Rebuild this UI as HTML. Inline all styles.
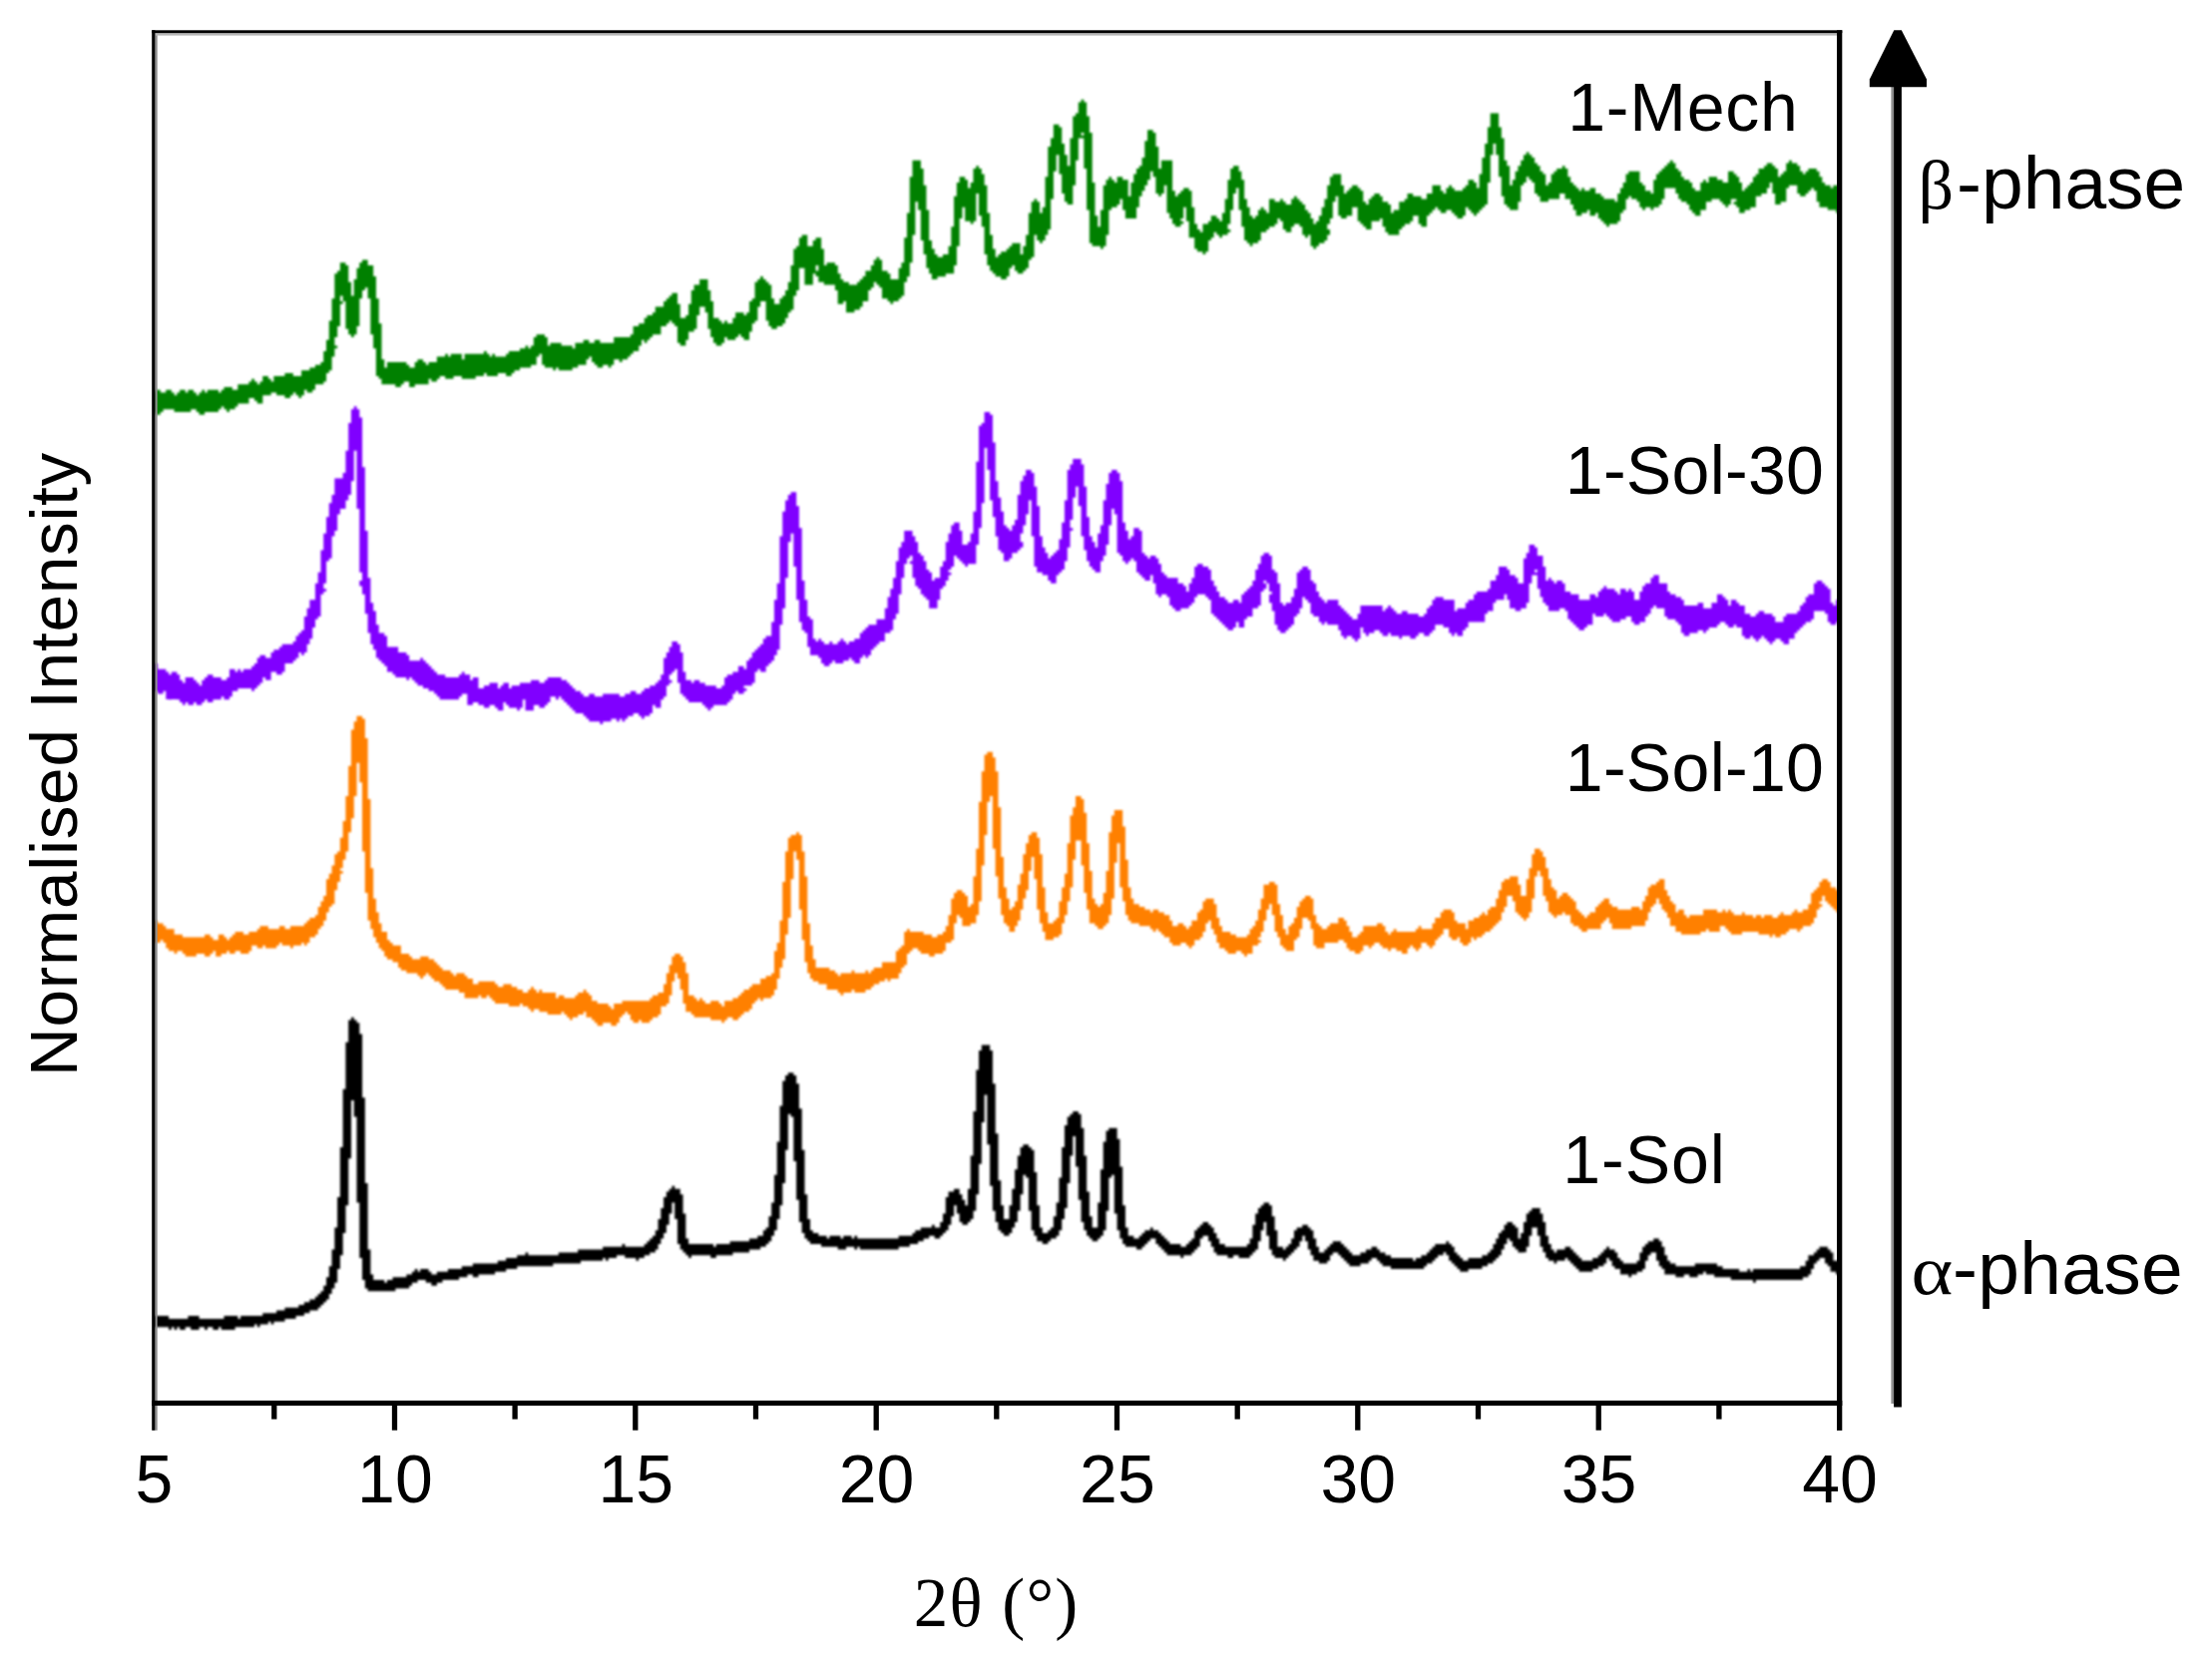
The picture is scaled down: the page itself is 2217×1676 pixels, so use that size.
<!DOCTYPE html>
<html lang="en">
<head>
<meta charset="utf-8">
<title>PXRD patterns</title>
<style>
html,body{margin:0;padding:0;background:#fff;}
body{width:2217px;height:1676px;overflow:hidden;}
svg{display:block;}
.sans{font-family:"Liberation Sans", sans-serif;fill:#000;}
.serif{font-family:"Liberation Serif", serif;fill:#000;}
</style>
</head>
<body>
<svg width="2217" height="1676" viewBox="0 0 2217 1676">
<rect x="0" y="0" width="2217" height="1676" fill="#fff"/>
<defs><filter id="soft" x="0" y="0" width="2217" height="1676" filterUnits="userSpaceOnUse"><feGaussianBlur stdDeviation="0.8"/></filter><clipPath id="plot"><rect x="154.5" y="32.3" width="1689.2" height="1373.7"/></clipPath></defs>
<g clip-path="url(#plot)"><g filter="url(#soft)">
<path d="M146.88,404.60h2.83v2.77h-2.83zM149.65,399.06h2.83v13.86h-2.83zM152.42,393.52h2.83v19.40h-2.83zM155.19,390.75h2.83v24.94h-2.83zM157.96,390.75h2.83v24.94h-2.83zM160.73,393.52h2.83v19.40h-2.83zM163.50,393.52h2.83v16.63h-2.83zM166.28,390.75h2.83v19.40h-2.83zM169.05,390.75h2.83v19.40h-2.83zM171.82,393.52h2.83v16.63h-2.83zM174.59,396.29h2.83v16.63h-2.83zM177.36,393.52h2.83v19.40h-2.83zM180.13,390.75h2.83v22.17h-2.83zM182.90,390.75h2.83v22.17h-2.83zM185.67,393.52h2.83v19.40h-2.83zM188.45,390.75h2.83v22.17h-2.83zM191.22,390.75h2.83v19.40h-2.83zM193.99,393.52h2.83v16.63h-2.83zM196.76,396.29h2.83v16.63h-2.83zM199.53,393.52h2.83v22.17h-2.83zM202.30,390.75h2.83v24.94h-2.83zM205.07,393.52h2.83v19.40h-2.83zM207.84,390.75h2.83v22.17h-2.83zM210.62,390.75h2.83v22.17h-2.83zM213.39,390.75h2.83v22.17h-2.83zM216.16,390.75h2.83v22.17h-2.83zM218.93,393.52h2.83v16.63h-2.83zM221.70,390.75h2.83v16.63h-2.83zM224.47,387.98h2.83v22.17h-2.83zM227.24,387.98h2.83v24.94h-2.83zM230.01,387.98h2.83v22.17h-2.83zM232.79,390.75h2.83v19.40h-2.83zM235.56,390.75h2.83v16.63h-2.83zM238.33,385.20h2.83v19.40h-2.83zM241.10,385.20h2.83v19.40h-2.83zM243.87,385.20h2.83v19.40h-2.83zM246.64,385.20h2.83v19.40h-2.83zM249.41,382.43h2.83v16.63h-2.83zM252.18,379.66h2.83v19.40h-2.83zM254.96,382.43h2.83v19.40h-2.83zM257.73,385.20h2.83v19.40h-2.83zM260.50,382.43h2.83v22.17h-2.83zM263.27,376.89h2.83v19.40h-2.83zM266.04,376.89h2.83v19.40h-2.83zM268.81,379.66h2.83v16.63h-2.83zM271.58,382.43h2.83v11.09h-2.83zM274.35,376.89h2.83v16.63h-2.83zM277.12,376.89h2.83v19.40h-2.83zM279.90,376.89h2.83v19.40h-2.83zM282.67,376.89h2.83v19.40h-2.83zM285.44,374.12h2.83v24.94h-2.83zM288.21,374.12h2.83v24.94h-2.83zM290.98,374.12h2.83v22.17h-2.83zM293.75,376.89h2.83v16.63h-2.83zM296.52,376.89h2.83v19.40h-2.83zM299.30,376.89h2.83v22.17h-2.83zM302.07,371.35h2.83v24.94h-2.83zM304.84,371.35h2.83v19.40h-2.83zM307.61,371.35h2.83v22.17h-2.83zM310.38,368.58h2.83v24.94h-2.83zM313.15,368.58h2.83v22.17h-2.83zM315.92,365.81h2.83v19.40h-2.83zM318.69,365.81h2.83v19.40h-2.83zM321.47,363.03h2.83v22.17h-2.83zM324.24,351.95h2.83v30.48h-2.83zM327.01,340.86h2.83v33.26h-2.83zM329.78,321.47h2.83v49.88h-2.83zM332.55,299.30h2.83v58.20h-2.83zM335.32,274.35h2.83v63.74h-2.83zM335.32,346.41h2.83v2.77h-2.83zM338.09,271.58h2.83v55.43h-2.83zM340.86,263.27h2.83v33.26h-2.83zM340.86,302.07h2.83v2.77h-2.83zM343.64,263.27h2.83v38.80h-2.83zM346.41,266.04h2.83v63.74h-2.83zM349.18,282.67h2.83v52.65h-2.83zM351.95,296.52h2.83v41.57h-2.83zM354.72,279.90h2.83v55.43h-2.83zM357.49,268.81h2.83v58.20h-2.83zM360.26,263.27h2.83v36.03h-2.83zM363.03,260.50h2.83v30.48h-2.83zM365.81,260.50h2.83v27.71h-2.83zM368.58,266.04h2.83v33.26h-2.83zM371.35,266.04h2.83v69.28h-2.83zM374.12,277.12h2.83v72.05h-2.83zM376.89,299.30h2.83v77.59h-2.83zM379.66,324.24h2.83v55.43h-2.83zM382.43,360.26h2.83v24.94h-2.83zM385.20,368.58h2.83v16.63h-2.83zM387.98,363.03h2.83v22.17h-2.83zM390.75,363.03h2.83v22.17h-2.83zM393.52,363.03h2.83v22.17h-2.83zM396.29,363.03h2.83v24.94h-2.83zM399.06,363.03h2.83v24.94h-2.83zM401.83,363.03h2.83v22.17h-2.83zM404.60,363.03h2.83v19.40h-2.83zM407.37,365.81h2.83v16.63h-2.83zM410.15,368.58h2.83v19.40h-2.83zM412.92,368.58h2.83v19.40h-2.83zM415.69,363.03h2.83v22.17h-2.83zM418.46,360.26h2.83v24.94h-2.83zM421.23,360.26h2.83v24.94h-2.83zM424.00,363.03h2.83v22.17h-2.83zM426.77,365.81h2.83v19.40h-2.83zM429.54,363.03h2.83v16.63h-2.83zM432.32,363.03h2.83v19.40h-2.83zM435.09,363.03h2.83v19.40h-2.83zM437.86,357.49h2.83v22.17h-2.83zM440.63,357.49h2.83v19.40h-2.83zM443.40,357.49h2.83v19.40h-2.83zM446.17,354.72h2.83v24.94h-2.83zM448.94,357.49h2.83v22.17h-2.83zM451.71,354.72h2.83v24.94h-2.83zM454.49,354.72h2.83v22.17h-2.83zM457.26,354.72h2.83v22.17h-2.83zM460.03,354.72h2.83v22.17h-2.83zM462.80,360.26h2.83v19.40h-2.83zM465.57,354.72h2.83v24.94h-2.83zM468.34,354.72h2.83v24.94h-2.83zM471.11,354.72h2.83v24.94h-2.83zM473.88,354.72h2.83v24.94h-2.83zM476.66,354.72h2.83v22.17h-2.83zM479.43,354.72h2.83v22.17h-2.83zM482.20,354.72h2.83v22.17h-2.83zM484.97,351.95h2.83v22.17h-2.83zM487.74,354.72h2.83v22.17h-2.83zM490.51,357.49h2.83v19.40h-2.83zM493.28,354.72h2.83v22.17h-2.83zM496.05,357.49h2.83v19.40h-2.83zM498.83,357.49h2.83v16.63h-2.83zM501.60,357.49h2.83v16.63h-2.83zM504.37,357.49h2.83v16.63h-2.83zM507.14,354.72h2.83v22.17h-2.83zM509.91,351.95h2.83v24.94h-2.83zM512.68,351.95h2.83v22.17h-2.83zM515.45,351.95h2.83v19.40h-2.83zM518.22,351.95h2.83v19.40h-2.83zM521.00,349.18h2.83v19.40h-2.83zM523.77,349.18h2.83v19.40h-2.83zM526.54,346.41h2.83v22.17h-2.83zM529.31,349.18h2.83v19.40h-2.83zM532.08,346.41h2.83v19.40h-2.83zM534.85,338.09h2.83v27.71h-2.83zM537.62,335.32h2.83v22.17h-2.83zM540.39,335.32h2.83v19.40h-2.83zM543.17,335.32h2.83v30.48h-2.83zM545.94,338.09h2.83v30.48h-2.83zM548.71,346.41h2.83v22.17h-2.83zM551.48,343.64h2.83v24.94h-2.83zM554.25,343.64h2.83v27.71h-2.83zM557.02,343.64h2.83v24.94h-2.83zM559.79,343.64h2.83v27.71h-2.83zM562.56,346.41h2.83v24.94h-2.83zM565.34,346.41h2.83v24.94h-2.83zM568.11,346.41h2.83v24.94h-2.83zM570.88,346.41h2.83v24.94h-2.83zM573.65,349.18h2.83v19.40h-2.83zM576.42,343.64h2.83v24.94h-2.83zM579.19,343.64h2.83v22.17h-2.83zM581.96,343.64h2.83v22.17h-2.83zM584.73,340.86h2.83v24.94h-2.83zM587.50,340.86h2.83v19.40h-2.83zM590.28,343.64h2.83v13.86h-2.83zM593.05,343.64h2.83v19.40h-2.83zM595.82,340.86h2.83v24.94h-2.83zM598.59,340.86h2.83v27.71h-2.83zM601.36,343.64h2.83v24.94h-2.83zM604.13,343.64h2.83v22.17h-2.83zM606.90,343.64h2.83v22.17h-2.83zM609.68,343.64h2.83v24.94h-2.83zM612.45,343.64h2.83v22.17h-2.83zM615.22,338.09h2.83v22.17h-2.83zM617.99,338.09h2.83v22.17h-2.83zM620.76,338.09h2.83v24.94h-2.83zM623.53,338.09h2.83v22.17h-2.83zM626.30,338.09h2.83v22.17h-2.83zM629.07,338.09h2.83v19.40h-2.83zM631.85,335.32h2.83v19.40h-2.83zM634.62,327.01h2.83v24.94h-2.83zM637.39,327.01h2.83v24.94h-2.83zM640.16,324.24h2.83v22.17h-2.83zM642.93,324.24h2.83v16.63h-2.83zM645.70,318.69h2.83v24.94h-2.83zM648.47,315.92h2.83v24.94h-2.83zM651.24,315.92h2.83v22.17h-2.83zM654.02,313.15h2.83v22.17h-2.83zM656.79,307.61h2.83v27.71h-2.83zM659.56,307.61h2.83v27.71h-2.83zM662.33,307.61h2.83v19.40h-2.83zM665.10,302.07h2.83v24.94h-2.83zM667.87,299.30h2.83v24.94h-2.83zM670.64,296.52h2.83v24.94h-2.83zM673.41,293.75h2.83v30.48h-2.83zM676.19,293.75h2.83v33.26h-2.83zM678.96,304.84h2.83v38.80h-2.83zM681.73,318.69h2.83v27.71h-2.83zM684.50,318.69h2.83v27.71h-2.83zM687.27,315.92h2.83v24.94h-2.83zM690.04,304.84h2.83v27.71h-2.83zM692.81,290.98h2.83v41.57h-2.83zM695.58,285.44h2.83v44.34h-2.83zM698.36,285.44h2.83v30.48h-2.83zM701.13,279.90h2.83v27.71h-2.83zM703.90,279.90h2.83v27.71h-2.83zM706.67,279.90h2.83v33.26h-2.83zM709.44,290.98h2.83v38.80h-2.83zM712.21,302.07h2.83v36.03h-2.83zM714.98,318.69h2.83v24.94h-2.83zM717.75,318.69h2.83v27.71h-2.83zM720.53,321.47h2.83v24.94h-2.83zM723.30,324.24h2.83v19.40h-2.83zM726.07,321.47h2.83v16.63h-2.83zM728.84,324.24h2.83v16.63h-2.83zM731.61,324.24h2.83v16.63h-2.83zM734.38,318.69h2.83v22.17h-2.83zM737.15,313.15h2.83v24.94h-2.83zM739.92,313.15h2.83v22.17h-2.83zM742.70,313.15h2.83v24.94h-2.83zM745.47,315.92h2.83v24.94h-2.83zM748.24,313.15h2.83v27.71h-2.83zM751.01,302.07h2.83v30.48h-2.83zM753.78,299.30h2.83v24.94h-2.83zM756.55,282.67h2.83v38.80h-2.83zM759.32,279.90h2.83v27.71h-2.83zM762.09,277.12h2.83v24.94h-2.83zM764.87,279.90h2.83v22.17h-2.83zM767.64,282.67h2.83v38.80h-2.83zM770.41,285.44h2.83v41.57h-2.83zM773.18,299.30h2.83v30.48h-2.83zM775.95,304.84h2.83v24.94h-2.83zM778.72,304.84h2.83v22.17h-2.83zM781.49,299.30h2.83v27.71h-2.83zM784.26,296.52h2.83v27.71h-2.83zM787.04,290.98h2.83v27.71h-2.83zM789.81,282.67h2.83v30.48h-2.83zM792.58,266.04h2.83v44.34h-2.83zM795.35,249.41h2.83v47.11h-2.83zM798.12,246.64h2.83v44.34h-2.83zM800.89,238.33h2.83v30.48h-2.83zM803.66,235.56h2.83v33.26h-2.83zM806.43,235.56h2.83v49.88h-2.83zM809.21,246.64h2.83v38.80h-2.83zM811.98,246.64h2.83v38.80h-2.83zM814.75,241.10h2.83v33.26h-2.83zM817.52,238.33h2.83v27.71h-2.83zM817.52,271.58h2.83v5.54h-2.83zM820.29,238.33h2.83v44.34h-2.83zM823.06,249.41h2.83v33.26h-2.83zM825.83,266.04h2.83v19.40h-2.83zM828.60,263.27h2.83v22.17h-2.83zM831.38,263.27h2.83v22.17h-2.83zM834.15,263.27h2.83v22.17h-2.83zM836.92,266.04h2.83v24.94h-2.83zM839.69,274.35h2.83v30.48h-2.83zM842.46,279.90h2.83v24.94h-2.83zM845.23,282.67h2.83v19.40h-2.83zM848.00,282.67h2.83v30.48h-2.83zM850.77,285.44h2.83v27.71h-2.83zM853.55,285.44h2.83v27.71h-2.83zM856.32,285.44h2.83v24.94h-2.83zM859.09,282.67h2.83v27.71h-2.83zM861.86,279.90h2.83v27.71h-2.83zM864.63,277.12h2.83v24.94h-2.83zM867.40,271.58h2.83v30.48h-2.83zM870.17,271.58h2.83v19.40h-2.83zM872.94,266.04h2.83v22.17h-2.83zM875.72,260.50h2.83v22.17h-2.83zM878.49,257.73h2.83v27.71h-2.83zM881.26,260.50h2.83v27.71h-2.83zM884.03,271.58h2.83v27.71h-2.83zM886.80,271.58h2.83v27.71h-2.83zM889.57,274.35h2.83v27.71h-2.83zM892.34,279.90h2.83v24.94h-2.83zM895.11,279.90h2.83v22.17h-2.83zM897.89,279.90h2.83v22.17h-2.83zM900.66,268.81h2.83v30.48h-2.83zM903.43,263.27h2.83v33.26h-2.83zM906.20,238.33h2.83v44.34h-2.83zM908.97,213.39h2.83v63.74h-2.83zM911.74,177.36h2.83v85.91h-2.83zM914.51,160.73h2.83v74.82h-2.83zM917.28,160.73h2.83v41.57h-2.83zM920.06,160.73h2.83v49.88h-2.83zM922.83,169.05h2.83v72.05h-2.83zM925.60,185.67h2.83v69.28h-2.83zM928.37,210.62h2.83v58.20h-2.83zM931.14,241.10h2.83v33.26h-2.83zM933.91,249.41h2.83v30.48h-2.83zM936.68,254.96h2.83v24.94h-2.83zM939.45,257.73h2.83v19.40h-2.83zM942.23,257.73h2.83v19.40h-2.83zM945.00,254.96h2.83v22.17h-2.83zM947.77,254.96h2.83v19.40h-2.83zM950.54,246.64h2.83v27.71h-2.83zM953.31,227.24h2.83v47.11h-2.83zM956.08,196.76h2.83v69.28h-2.83zM958.85,182.90h2.83v63.74h-2.83zM961.62,177.36h2.83v41.57h-2.83zM964.40,177.36h2.83v30.48h-2.83zM967.17,180.13h2.83v41.57h-2.83zM969.94,188.45h2.83v33.26h-2.83zM972.71,182.90h2.83v41.57h-2.83zM975.48,169.05h2.83v52.65h-2.83zM978.25,166.28h2.83v27.71h-2.83zM981.02,169.05h2.83v47.11h-2.83zM983.79,174.59h2.83v52.65h-2.83zM986.57,185.67h2.83v69.28h-2.83zM989.34,213.39h2.83v52.65h-2.83zM992.11,235.56h2.83v36.03h-2.83zM994.88,249.41h2.83v24.94h-2.83zM997.65,257.73h2.83v19.40h-2.83zM1000.42,254.96h2.83v22.17h-2.83zM1003.19,252.18h2.83v27.71h-2.83zM1005.96,252.18h2.83v27.71h-2.83zM1008.74,249.41h2.83v27.71h-2.83zM1011.51,246.64h2.83v22.17h-2.83zM1014.28,243.87h2.83v22.17h-2.83zM1017.05,243.87h2.83v27.71h-2.83zM1019.82,243.87h2.83v30.48h-2.83zM1022.59,254.96h2.83v19.40h-2.83zM1025.36,246.64h2.83v24.94h-2.83zM1028.13,235.56h2.83v33.26h-2.83zM1030.90,213.39h2.83v47.11h-2.83zM1033.68,202.30h2.83v55.43h-2.83zM1036.45,199.53h2.83v36.03h-2.83zM1039.22,202.30h2.83v38.80h-2.83zM1041.99,213.39h2.83v30.48h-2.83zM1044.76,207.84h2.83v33.26h-2.83zM1047.53,177.36h2.83v58.20h-2.83zM1050.30,146.88h2.83v83.14h-2.83zM1053.08,138.56h2.83v60.97h-2.83zM1055.85,124.71h2.83v47.11h-2.83zM1058.62,124.71h2.83v30.48h-2.83zM1061.39,127.48h2.83v47.11h-2.83zM1064.16,144.11h2.83v49.88h-2.83zM1066.93,155.19h2.83v47.11h-2.83zM1069.70,166.28h2.83v38.80h-2.83zM1072.47,138.56h2.83v66.51h-2.83zM1075.25,116.39h2.83v69.28h-2.83zM1078.02,113.62h2.83v47.11h-2.83zM1080.79,102.54h2.83v36.03h-2.83zM1083.56,99.77h2.83v33.26h-2.83zM1083.56,135.79h2.83v2.77h-2.83zM1086.33,102.54h2.83v66.51h-2.83zM1089.10,116.39h2.83v94.22h-2.83zM1091.87,133.02h2.83v110.85h-2.83zM1094.64,182.90h2.83v63.74h-2.83zM1097.42,216.16h2.83v30.48h-2.83zM1100.19,227.24h2.83v19.40h-2.83zM1102.96,210.62h2.83v38.80h-2.83zM1105.73,185.67h2.83v60.97h-2.83zM1108.50,180.13h2.83v55.43h-2.83zM1111.27,177.36h2.83v33.26h-2.83zM1114.04,180.13h2.83v27.71h-2.83zM1116.81,182.90h2.83v24.94h-2.83zM1119.59,177.36h2.83v27.71h-2.83zM1122.36,177.36h2.83v22.17h-2.83zM1125.13,180.13h2.83v30.48h-2.83zM1127.90,180.13h2.83v38.80h-2.83zM1130.67,196.76h2.83v22.17h-2.83zM1133.44,182.90h2.83v36.03h-2.83zM1136.21,174.59h2.83v44.34h-2.83zM1138.98,169.05h2.83v38.80h-2.83zM1141.76,166.28h2.83v30.48h-2.83zM1144.53,157.96h2.83v33.26h-2.83zM1147.30,141.33h2.83v44.34h-2.83zM1150.07,130.25h2.83v49.88h-2.83zM1152.84,130.25h2.83v41.57h-2.83zM1155.61,133.02h2.83v44.34h-2.83zM1158.38,146.88h2.83v47.11h-2.83zM1161.15,169.05h2.83v27.71h-2.83zM1163.93,160.73h2.83v33.26h-2.83zM1166.70,160.73h2.83v24.94h-2.83zM1169.47,160.73h2.83v52.65h-2.83zM1172.24,160.73h2.83v58.20h-2.83zM1175.01,191.22h2.83v33.26h-2.83zM1177.78,196.76h2.83v30.48h-2.83zM1180.55,193.99h2.83v33.26h-2.83zM1183.32,191.22h2.83v27.71h-2.83zM1183.32,221.70h2.83v2.77h-2.83zM1186.10,188.45h2.83v19.40h-2.83zM1188.87,188.45h2.83v33.26h-2.83zM1191.64,191.22h2.83v47.11h-2.83zM1194.41,207.84h2.83v30.48h-2.83zM1197.18,224.47h2.83v24.94h-2.83zM1199.95,230.01h2.83v22.17h-2.83zM1202.72,232.79h2.83v19.40h-2.83zM1205.49,224.47h2.83v30.48h-2.83zM1208.27,224.47h2.83v27.71h-2.83zM1211.04,221.70h2.83v19.40h-2.83zM1213.81,216.16h2.83v22.17h-2.83zM1216.58,216.16h2.83v16.63h-2.83zM1219.35,218.93h2.83v16.63h-2.83zM1222.12,221.70h2.83v16.63h-2.83zM1224.89,213.39h2.83v22.17h-2.83zM1227.66,199.53h2.83v36.03h-2.83zM1230.44,180.13h2.83v44.34h-2.83zM1230.44,230.01h2.83v2.77h-2.83zM1233.21,169.05h2.83v41.57h-2.83zM1235.98,166.28h2.83v27.71h-2.83zM1238.75,166.28h2.83v22.17h-2.83zM1241.52,171.82h2.83v38.80h-2.83zM1244.29,180.13h2.83v47.11h-2.83zM1247.06,199.53h2.83v41.57h-2.83zM1249.83,207.84h2.83v36.03h-2.83zM1252.61,216.16h2.83v30.48h-2.83zM1255.38,218.93h2.83v24.94h-2.83zM1258.15,216.16h2.83v27.71h-2.83zM1260.92,210.62h2.83v30.48h-2.83zM1263.69,207.84h2.83v24.94h-2.83zM1266.46,210.62h2.83v22.17h-2.83zM1269.23,213.39h2.83v16.63h-2.83zM1272.00,199.53h2.83v27.71h-2.83zM1274.78,199.53h2.83v27.71h-2.83zM1277.55,202.30h2.83v22.17h-2.83zM1280.32,202.30h2.83v16.63h-2.83zM1283.09,199.53h2.83v22.17h-2.83zM1285.86,202.30h2.83v27.71h-2.83zM1288.63,205.07h2.83v27.71h-2.83zM1291.40,205.07h2.83v27.71h-2.83zM1294.17,199.53h2.83v27.71h-2.83zM1296.95,196.76h2.83v27.71h-2.83zM1299.72,199.53h2.83v24.94h-2.83zM1302.49,202.30h2.83v24.94h-2.83zM1305.26,205.07h2.83v30.48h-2.83zM1308.03,210.62h2.83v27.71h-2.83zM1310.80,213.39h2.83v22.17h-2.83zM1313.57,218.93h2.83v27.71h-2.83zM1316.34,224.47h2.83v24.94h-2.83zM1319.12,221.70h2.83v24.94h-2.83zM1321.89,216.16h2.83v27.71h-2.83zM1324.66,207.84h2.83v36.03h-2.83zM1327.43,199.53h2.83v41.57h-2.83zM1330.20,185.67h2.83v38.80h-2.83zM1330.20,230.01h2.83v5.54h-2.83zM1332.97,177.36h2.83v41.57h-2.83zM1335.74,174.59h2.83v27.71h-2.83zM1338.51,174.59h2.83v22.17h-2.83zM1341.29,174.59h2.83v41.57h-2.83zM1344.06,185.67h2.83v33.26h-2.83zM1346.83,193.99h2.83v24.94h-2.83zM1349.60,191.22h2.83v24.94h-2.83zM1352.37,188.45h2.83v27.71h-2.83zM1355.14,185.67h2.83v22.17h-2.83zM1357.91,185.67h2.83v22.17h-2.83zM1360.68,188.45h2.83v33.26h-2.83zM1363.46,191.22h2.83v33.26h-2.83zM1366.23,202.30h2.83v24.94h-2.83zM1369.00,205.07h2.83v24.94h-2.83zM1371.77,199.53h2.83v30.48h-2.83zM1374.54,196.76h2.83v24.94h-2.83zM1377.31,193.99h2.83v27.71h-2.83zM1380.08,193.99h2.83v27.71h-2.83zM1382.85,196.76h2.83v22.17h-2.83zM1385.62,202.30h2.83v24.94h-2.83zM1388.40,202.30h2.83v30.48h-2.83zM1391.17,205.07h2.83v30.48h-2.83zM1393.94,213.39h2.83v22.17h-2.83zM1396.71,210.62h2.83v24.94h-2.83zM1399.48,210.62h2.83v24.94h-2.83zM1402.25,202.30h2.83v27.71h-2.83zM1405.02,202.30h2.83v24.94h-2.83zM1407.80,199.53h2.83v24.94h-2.83zM1410.57,193.99h2.83v30.48h-2.83zM1413.34,193.99h2.83v27.71h-2.83zM1416.11,196.76h2.83v19.40h-2.83zM1418.88,196.76h2.83v19.40h-2.83zM1421.65,196.76h2.83v27.71h-2.83zM1424.42,199.53h2.83v27.71h-2.83zM1427.19,199.53h2.83v27.71h-2.83zM1429.97,193.99h2.83v22.17h-2.83zM1432.74,193.99h2.83v19.40h-2.83zM1435.51,185.67h2.83v24.94h-2.83zM1438.28,185.67h2.83v22.17h-2.83zM1441.05,185.67h2.83v24.94h-2.83zM1443.82,191.22h2.83v22.17h-2.83zM1446.59,193.99h2.83v19.40h-2.83zM1449.36,188.45h2.83v22.17h-2.83zM1452.14,185.67h2.83v24.94h-2.83zM1454.91,188.45h2.83v24.94h-2.83zM1457.68,191.22h2.83v24.94h-2.83zM1460.45,191.22h2.83v27.71h-2.83zM1463.22,191.22h2.83v27.71h-2.83zM1465.99,188.45h2.83v27.71h-2.83zM1468.76,185.67h2.83v22.17h-2.83zM1471.53,180.13h2.83v30.48h-2.83zM1474.31,180.13h2.83v33.26h-2.83zM1477.08,182.90h2.83v33.26h-2.83zM1479.85,188.45h2.83v24.94h-2.83zM1482.62,174.59h2.83v36.03h-2.83zM1485.39,157.96h2.83v49.88h-2.83zM1488.16,144.11h2.83v60.97h-2.83zM1490.93,127.48h2.83v55.43h-2.83zM1493.70,113.62h2.83v41.57h-2.83zM1496.48,113.62h2.83v30.48h-2.83zM1499.25,113.62h2.83v41.57h-2.83zM1502.02,127.48h2.83v49.88h-2.83zM1504.79,138.56h2.83v58.20h-2.83zM1507.56,160.73h2.83v44.34h-2.83zM1510.33,166.28h2.83v41.57h-2.83zM1513.10,185.67h2.83v24.94h-2.83zM1515.87,180.13h2.83v30.48h-2.83zM1518.65,171.82h2.83v38.80h-2.83zM1521.42,166.28h2.83v36.03h-2.83zM1524.19,160.73h2.83v24.94h-2.83zM1526.96,155.19h2.83v27.71h-2.83zM1529.73,152.42h2.83v24.94h-2.83zM1532.50,155.19h2.83v24.94h-2.83zM1535.27,157.96h2.83v24.94h-2.83zM1538.04,163.50h2.83v30.48h-2.83zM1540.82,166.28h2.83v30.48h-2.83zM1543.59,171.82h2.83v30.48h-2.83zM1546.36,174.59h2.83v27.71h-2.83zM1549.13,185.67h2.83v16.63h-2.83zM1551.90,182.90h2.83v16.63h-2.83zM1554.67,174.59h2.83v24.94h-2.83zM1557.44,171.82h2.83v27.71h-2.83zM1560.21,169.05h2.83v30.48h-2.83zM1562.99,169.05h2.83v24.94h-2.83zM1565.76,166.28h2.83v27.71h-2.83zM1568.53,169.05h2.83v30.48h-2.83zM1571.30,177.36h2.83v22.17h-2.83zM1574.07,182.90h2.83v22.17h-2.83zM1576.84,185.67h2.83v24.94h-2.83zM1579.61,188.45h2.83v27.71h-2.83zM1582.38,191.22h2.83v24.94h-2.83zM1585.16,188.45h2.83v24.94h-2.83zM1587.93,191.22h2.83v22.17h-2.83zM1590.70,191.22h2.83v19.40h-2.83zM1593.47,188.45h2.83v27.71h-2.83zM1596.24,188.45h2.83v27.71h-2.83zM1599.01,193.99h2.83v19.40h-2.83zM1601.78,193.99h2.83v24.94h-2.83zM1604.55,196.76h2.83v24.94h-2.83zM1607.33,199.53h2.83v24.94h-2.83zM1610.10,199.53h2.83v27.71h-2.83zM1612.87,199.53h2.83v24.94h-2.83zM1615.64,199.53h2.83v24.94h-2.83zM1618.41,202.30h2.83v22.17h-2.83zM1621.18,193.99h2.83v27.71h-2.83zM1623.95,188.45h2.83v24.94h-2.83zM1626.72,182.90h2.83v27.71h-2.83zM1629.50,174.59h2.83v24.94h-2.83zM1632.27,171.82h2.83v24.94h-2.83zM1635.04,171.82h2.83v27.71h-2.83zM1637.81,171.82h2.83v27.71h-2.83zM1640.58,171.82h2.83v30.48h-2.83zM1643.35,182.90h2.83v24.94h-2.83zM1646.12,185.67h2.83v24.94h-2.83zM1648.89,191.22h2.83v16.63h-2.83zM1651.67,191.22h2.83v16.63h-2.83zM1654.44,193.99h2.83v16.63h-2.83zM1657.21,180.13h2.83v27.71h-2.83zM1659.98,174.59h2.83v33.26h-2.83zM1662.75,171.82h2.83v33.26h-2.83zM1665.52,169.05h2.83v30.48h-2.83zM1668.29,166.28h2.83v22.17h-2.83zM1671.06,163.50h2.83v24.94h-2.83zM1673.84,160.73h2.83v27.71h-2.83zM1676.61,163.50h2.83v24.94h-2.83zM1679.38,169.05h2.83v24.94h-2.83zM1682.15,171.82h2.83v27.71h-2.83zM1684.92,177.36h2.83v24.94h-2.83zM1687.69,180.13h2.83v22.17h-2.83zM1690.46,180.13h2.83v24.94h-2.83zM1693.23,182.90h2.83v27.71h-2.83zM1696.01,188.45h2.83v24.94h-2.83zM1698.78,191.22h2.83v24.94h-2.83zM1701.55,191.22h2.83v24.94h-2.83zM1704.32,182.90h2.83v27.71h-2.83zM1707.09,180.13h2.83v30.48h-2.83zM1709.86,182.90h2.83v19.40h-2.83zM1712.63,177.36h2.83v24.94h-2.83zM1715.40,177.36h2.83v22.17h-2.83zM1718.18,177.36h2.83v22.17h-2.83zM1720.95,180.13h2.83v19.40h-2.83zM1723.72,180.13h2.83v22.17h-2.83zM1726.49,182.90h2.83v22.17h-2.83zM1729.26,182.90h2.83v24.94h-2.83zM1732.03,171.82h2.83v33.26h-2.83zM1734.80,171.82h2.83v27.71h-2.83zM1737.57,174.59h2.83v24.94h-2.83zM1737.57,202.30h2.83v2.77h-2.83zM1740.35,177.36h2.83v30.48h-2.83zM1743.12,182.90h2.83v30.48h-2.83zM1745.89,191.22h2.83v22.17h-2.83zM1748.66,188.45h2.83v22.17h-2.83zM1751.43,185.67h2.83v24.94h-2.83zM1754.20,182.90h2.83v24.94h-2.83zM1756.97,177.36h2.83v30.48h-2.83zM1759.74,174.59h2.83v22.17h-2.83zM1762.52,169.05h2.83v27.71h-2.83zM1765.29,169.05h2.83v24.94h-2.83zM1768.06,166.28h2.83v27.71h-2.83zM1770.83,163.50h2.83v24.94h-2.83zM1773.60,163.50h2.83v19.40h-2.83zM1776.37,166.28h2.83v27.71h-2.83zM1779.14,169.05h2.83v36.03h-2.83zM1781.91,177.36h2.83v27.71h-2.83zM1784.69,174.59h2.83v27.71h-2.83zM1787.46,171.82h2.83v30.48h-2.83zM1790.23,163.50h2.83v24.94h-2.83zM1793.00,160.73h2.83v24.94h-2.83zM1795.77,163.50h2.83v22.17h-2.83zM1798.54,163.50h2.83v22.17h-2.83zM1801.31,166.28h2.83v27.71h-2.83zM1804.08,171.82h2.83v24.94h-2.83zM1806.86,174.59h2.83v22.17h-2.83zM1809.63,171.82h2.83v22.17h-2.83zM1812.40,169.05h2.83v22.17h-2.83zM1815.17,169.05h2.83v19.40h-2.83zM1817.94,169.05h2.83v22.17h-2.83zM1820.71,171.82h2.83v30.48h-2.83zM1823.48,177.36h2.83v30.48h-2.83zM1826.25,182.90h2.83v24.94h-2.83zM1829.03,185.67h2.83v22.17h-2.83zM1831.80,185.67h2.83v24.94h-2.83zM1834.57,188.45h2.83v22.17h-2.83zM1837.34,185.67h2.83v24.94h-2.83zM1840.11,185.67h2.83v27.71h-2.83zM1842.88,191.22h2.83v22.17h-2.83zM1845.65,191.22h2.83v13.86h-2.83z" fill="#008000" stroke="none"/>
<path d="M149.65,667.87h2.83v22.17h-2.83zM152.42,665.10h2.83v27.71h-2.83zM155.19,665.10h2.83v27.71h-2.83zM157.96,670.64h2.83v24.94h-2.83zM160.73,670.64h2.83v24.94h-2.83zM163.50,670.64h2.83v22.17h-2.83zM166.28,673.41h2.83v27.71h-2.83zM169.05,676.19h2.83v24.94h-2.83zM171.82,673.41h2.83v27.71h-2.83zM174.59,673.41h2.83v27.71h-2.83zM177.36,676.19h2.83v24.94h-2.83zM180.13,681.73h2.83v22.17h-2.83zM182.90,684.50h2.83v22.17h-2.83zM185.67,678.96h2.83v24.94h-2.83zM188.45,678.96h2.83v27.71h-2.83zM191.22,678.96h2.83v27.71h-2.83zM193.99,681.73h2.83v22.17h-2.83zM196.76,684.50h2.83v22.17h-2.83zM199.53,687.27h2.83v19.40h-2.83zM202.30,681.73h2.83v22.17h-2.83zM205.07,678.96h2.83v22.17h-2.83zM207.84,676.19h2.83v27.71h-2.83zM210.62,676.19h2.83v27.71h-2.83zM213.39,678.96h2.83v22.17h-2.83zM216.16,678.96h2.83v22.17h-2.83zM218.93,678.96h2.83v22.17h-2.83zM221.70,681.73h2.83v16.63h-2.83zM224.47,681.73h2.83v19.40h-2.83zM227.24,678.96h2.83v22.17h-2.83zM230.01,670.64h2.83v27.71h-2.83zM232.79,670.64h2.83v22.17h-2.83zM235.56,673.41h2.83v19.40h-2.83zM238.33,670.64h2.83v19.40h-2.83zM241.10,673.41h2.83v16.63h-2.83zM243.87,670.64h2.83v19.40h-2.83zM246.64,670.64h2.83v19.40h-2.83zM249.41,670.64h2.83v19.40h-2.83zM252.18,667.87h2.83v24.94h-2.83zM254.96,665.10h2.83v24.94h-2.83zM257.73,659.56h2.83v27.71h-2.83zM260.50,656.79h2.83v27.71h-2.83zM263.27,656.79h2.83v22.17h-2.83zM266.04,659.56h2.83v22.17h-2.83zM268.81,659.56h2.83v22.17h-2.83zM271.58,654.02h2.83v19.40h-2.83zM274.35,651.24h2.83v22.17h-2.83zM277.12,651.24h2.83v24.94h-2.83zM279.90,648.47h2.83v27.71h-2.83zM282.67,645.70h2.83v27.71h-2.83zM285.44,645.70h2.83v19.40h-2.83zM288.21,645.70h2.83v19.40h-2.83zM290.98,645.70h2.83v19.40h-2.83zM293.75,642.93h2.83v19.40h-2.83zM296.52,637.39h2.83v22.17h-2.83zM299.30,634.62h2.83v19.40h-2.83zM302.07,631.85h2.83v24.94h-2.83zM304.84,617.99h2.83v36.03h-2.83zM307.61,609.68h2.83v36.03h-2.83zM310.38,601.36h2.83v38.80h-2.83zM313.15,601.36h2.83v27.71h-2.83zM315.92,584.73h2.83v36.03h-2.83zM318.69,573.65h2.83v44.34h-2.83zM321.47,551.48h2.83v44.34h-2.83zM324.24,534.85h2.83v49.88h-2.83zM324.24,590.28h2.83v2.77h-2.83zM327.01,518.22h2.83v44.34h-2.83zM329.78,504.37h2.83v55.43h-2.83zM332.55,496.05h2.83v41.57h-2.83zM335.32,479.43h2.83v52.65h-2.83zM338.09,479.43h2.83v36.03h-2.83zM340.86,479.43h2.83v30.48h-2.83zM343.64,473.88h2.83v36.03h-2.83zM346.41,451.71h2.83v49.88h-2.83zM349.18,424.00h2.83v72.05h-2.83zM351.95,410.15h2.83v72.05h-2.83zM354.72,407.37h2.83v44.34h-2.83zM357.49,410.15h2.83v99.77h-2.83zM360.26,418.46h2.83v155.19h-2.83zM360.26,581.96h2.83v5.54h-2.83zM363.03,468.34h2.83v127.48h-2.83zM365.81,532.08h2.83v83.14h-2.83zM368.58,579.19h2.83v55.43h-2.83zM371.35,604.13h2.83v41.57h-2.83zM374.12,612.45h2.83v38.80h-2.83zM376.89,626.30h2.83v33.26h-2.83zM379.66,634.62h2.83v27.71h-2.83zM382.43,634.62h2.83v30.48h-2.83zM385.20,637.39h2.83v30.48h-2.83zM387.98,648.47h2.83v24.94h-2.83zM390.75,648.47h2.83v24.94h-2.83zM393.52,648.47h2.83v27.71h-2.83zM396.29,648.47h2.83v30.48h-2.83zM399.06,654.02h2.83v24.94h-2.83zM401.83,654.02h2.83v24.94h-2.83zM404.60,654.02h2.83v24.94h-2.83zM407.37,656.79h2.83v24.94h-2.83zM410.15,662.33h2.83v16.63h-2.83zM412.92,662.33h2.83v19.40h-2.83zM415.69,662.33h2.83v22.17h-2.83zM418.46,662.33h2.83v24.94h-2.83zM421.23,659.56h2.83v27.71h-2.83zM424.00,662.33h2.83v27.71h-2.83zM426.77,665.10h2.83v24.94h-2.83zM429.54,667.87h2.83v24.94h-2.83zM432.32,670.64h2.83v22.17h-2.83zM435.09,673.41h2.83v22.17h-2.83zM437.86,676.19h2.83v22.17h-2.83zM440.63,676.19h2.83v24.94h-2.83zM443.40,676.19h2.83v24.94h-2.83zM446.17,678.96h2.83v22.17h-2.83zM448.94,678.96h2.83v22.17h-2.83zM451.71,678.96h2.83v22.17h-2.83zM454.49,678.96h2.83v22.17h-2.83zM457.26,678.96h2.83v22.17h-2.83zM460.03,676.19h2.83v22.17h-2.83zM462.80,673.41h2.83v22.17h-2.83zM465.57,676.19h2.83v19.40h-2.83zM468.34,676.19h2.83v30.48h-2.83zM471.11,681.73h2.83v24.94h-2.83zM473.88,678.96h2.83v24.94h-2.83zM476.66,678.96h2.83v24.94h-2.83zM479.43,690.04h2.83v16.63h-2.83zM482.20,690.04h2.83v16.63h-2.83zM484.97,687.27h2.83v22.17h-2.83zM487.74,687.27h2.83v22.17h-2.83zM490.51,684.50h2.83v22.17h-2.83zM493.28,684.50h2.83v22.17h-2.83zM496.05,684.50h2.83v24.94h-2.83zM498.83,690.04h2.83v22.17h-2.83zM501.60,687.27h2.83v24.94h-2.83zM504.37,684.50h2.83v19.40h-2.83zM507.14,684.50h2.83v22.17h-2.83zM509.91,690.04h2.83v19.40h-2.83zM512.68,687.27h2.83v22.17h-2.83zM515.45,687.27h2.83v22.17h-2.83zM518.22,687.27h2.83v24.94h-2.83zM521.00,684.50h2.83v24.94h-2.83zM523.77,684.50h2.83v16.63h-2.83zM526.54,684.50h2.83v27.71h-2.83zM529.31,684.50h2.83v27.71h-2.83zM532.08,681.73h2.83v30.48h-2.83zM534.85,681.73h2.83v24.94h-2.83zM537.62,681.73h2.83v24.94h-2.83zM540.39,684.50h2.83v24.94h-2.83zM543.17,684.50h2.83v24.94h-2.83zM545.94,681.73h2.83v24.94h-2.83zM548.71,678.96h2.83v24.94h-2.83zM551.48,678.96h2.83v19.40h-2.83zM554.25,678.96h2.83v19.40h-2.83zM557.02,678.96h2.83v22.17h-2.83zM559.79,678.96h2.83v19.40h-2.83zM562.56,681.73h2.83v19.40h-2.83zM565.34,681.73h2.83v22.17h-2.83zM568.11,684.50h2.83v22.17h-2.83zM570.88,687.27h2.83v22.17h-2.83zM573.65,690.04h2.83v22.17h-2.83zM576.42,692.81h2.83v22.17h-2.83zM579.19,692.81h2.83v22.17h-2.83zM581.96,695.58h2.83v19.40h-2.83zM584.73,698.36h2.83v19.40h-2.83zM587.50,698.36h2.83v22.17h-2.83zM590.28,695.58h2.83v27.71h-2.83zM593.05,695.58h2.83v27.71h-2.83zM595.82,698.36h2.83v24.94h-2.83zM598.59,698.36h2.83v24.94h-2.83zM601.36,698.36h2.83v27.71h-2.83zM604.13,695.58h2.83v27.71h-2.83zM606.90,695.58h2.83v27.71h-2.83zM609.68,695.58h2.83v27.71h-2.83zM612.45,695.58h2.83v24.94h-2.83zM615.22,695.58h2.83v24.94h-2.83zM617.99,695.58h2.83v27.71h-2.83zM620.76,698.36h2.83v22.17h-2.83zM623.53,698.36h2.83v24.94h-2.83zM626.30,695.58h2.83v24.94h-2.83zM629.07,695.58h2.83v22.17h-2.83zM631.85,692.81h2.83v24.94h-2.83zM634.62,692.81h2.83v22.17h-2.83zM637.39,695.58h2.83v19.40h-2.83zM640.16,695.58h2.83v22.17h-2.83zM642.93,692.81h2.83v27.71h-2.83zM645.70,690.04h2.83v27.71h-2.83zM648.47,690.04h2.83v27.71h-2.83zM651.24,687.27h2.83v27.71h-2.83zM654.02,687.27h2.83v19.40h-2.83zM656.79,684.50h2.83v24.94h-2.83zM659.56,681.73h2.83v27.71h-2.83zM662.33,676.19h2.83v24.94h-2.83zM665.10,659.56h2.83v38.80h-2.83zM667.87,654.02h2.83v33.26h-2.83zM670.64,648.47h2.83v27.71h-2.83zM670.64,681.73h2.83v2.77h-2.83zM673.41,642.93h2.83v30.48h-2.83zM676.19,642.93h2.83v27.71h-2.83zM678.96,645.70h2.83v38.80h-2.83zM681.73,654.02h2.83v41.57h-2.83zM684.50,673.41h2.83v24.94h-2.83zM687.27,681.73h2.83v19.40h-2.83zM690.04,681.73h2.83v22.17h-2.83zM692.81,684.50h2.83v19.40h-2.83zM695.58,681.73h2.83v22.17h-2.83zM698.36,681.73h2.83v22.17h-2.83zM701.13,684.50h2.83v19.40h-2.83zM703.90,684.50h2.83v22.17h-2.83zM706.67,687.27h2.83v22.17h-2.83zM709.44,687.27h2.83v24.94h-2.83zM712.21,687.27h2.83v22.17h-2.83zM714.98,687.27h2.83v19.40h-2.83zM717.75,690.04h2.83v16.63h-2.83zM720.53,690.04h2.83v16.63h-2.83zM723.30,687.27h2.83v19.40h-2.83zM726.07,678.96h2.83v27.71h-2.83zM728.84,676.19h2.83v27.71h-2.83zM731.61,676.19h2.83v24.94h-2.83zM734.38,673.41h2.83v22.17h-2.83zM737.15,673.41h2.83v19.40h-2.83zM739.92,667.87h2.83v27.71h-2.83zM742.70,667.87h2.83v27.71h-2.83zM745.47,670.64h2.83v16.63h-2.83zM745.47,690.04h2.83v2.77h-2.83zM748.24,662.33h2.83v24.94h-2.83zM751.01,659.56h2.83v27.71h-2.83zM753.78,654.02h2.83v30.48h-2.83zM756.55,651.24h2.83v22.17h-2.83zM759.32,648.47h2.83v22.17h-2.83zM762.09,645.70h2.83v27.71h-2.83zM764.87,640.16h2.83v33.26h-2.83zM767.64,637.39h2.83v30.48h-2.83zM770.41,637.39h2.83v27.71h-2.83zM773.18,623.53h2.83v38.80h-2.83zM775.95,601.36h2.83v55.43h-2.83zM778.72,584.73h2.83v66.51h-2.83zM781.49,537.62h2.83v88.68h-2.83zM784.26,512.68h2.83v96.99h-2.83zM787.04,501.60h2.83v77.59h-2.83zM789.81,496.05h2.83v47.11h-2.83zM792.58,493.28h2.83v41.57h-2.83zM795.35,493.28h2.83v74.82h-2.83zM798.12,507.14h2.83v94.22h-2.83zM800.89,529.31h2.83v94.22h-2.83zM803.66,581.96h2.83v49.88h-2.83zM806.43,601.36h2.83v33.26h-2.83zM809.21,617.99h2.83v30.48h-2.83zM811.98,620.76h2.83v36.03h-2.83zM814.75,640.16h2.83v16.63h-2.83zM817.52,642.93h2.83v13.86h-2.83zM820.29,640.16h2.83v19.40h-2.83zM823.06,642.93h2.83v22.17h-2.83zM825.83,645.70h2.83v22.17h-2.83zM828.60,645.70h2.83v22.17h-2.83zM831.38,642.93h2.83v22.17h-2.83zM834.15,645.70h2.83v16.63h-2.83zM836.92,645.70h2.83v19.40h-2.83zM839.69,642.93h2.83v22.17h-2.83zM842.46,640.16h2.83v24.94h-2.83zM845.23,642.93h2.83v19.40h-2.83zM848.00,645.70h2.83v16.63h-2.83zM850.77,642.93h2.83v16.63h-2.83zM853.55,642.93h2.83v19.40h-2.83zM856.32,640.16h2.83v24.94h-2.83zM859.09,640.16h2.83v24.94h-2.83zM861.86,634.62h2.83v24.94h-2.83zM864.63,631.85h2.83v24.94h-2.83zM867.40,629.07h2.83v30.48h-2.83zM870.17,626.30h2.83v30.48h-2.83zM872.94,626.30h2.83v24.94h-2.83zM875.72,626.30h2.83v22.17h-2.83zM878.49,620.76h2.83v24.94h-2.83zM881.26,620.76h2.83v22.17h-2.83zM884.03,620.76h2.83v22.17h-2.83zM886.80,609.68h2.83v24.94h-2.83zM889.57,598.59h2.83v36.03h-2.83zM892.34,590.28h2.83v41.57h-2.83zM895.11,579.19h2.83v41.57h-2.83zM897.89,562.56h2.83v52.65h-2.83zM900.66,548.71h2.83v47.11h-2.83zM903.43,543.17h2.83v36.03h-2.83zM906.20,532.08h2.83v33.26h-2.83zM908.97,532.08h2.83v27.71h-2.83zM911.74,532.08h2.83v24.94h-2.83zM911.74,562.56h2.83v2.77h-2.83zM914.51,537.62h2.83v41.57h-2.83zM917.28,543.17h2.83v44.34h-2.83zM920.06,554.25h2.83v36.03h-2.83zM922.83,557.02h2.83v38.80h-2.83zM925.60,562.56h2.83v36.03h-2.83zM928.37,570.88h2.83v30.48h-2.83zM931.14,573.65h2.83v36.03h-2.83zM933.91,581.96h2.83v27.71h-2.83zM936.68,579.19h2.83v30.48h-2.83zM939.45,579.19h2.83v22.17h-2.83zM942.23,568.11h2.83v22.17h-2.83zM945.00,562.56h2.83v24.94h-2.83zM947.77,543.17h2.83v38.80h-2.83zM950.54,534.85h2.83v36.03h-2.83zM950.54,573.65h2.83v2.77h-2.83zM953.31,526.54h2.83v41.57h-2.83zM956.08,523.77h2.83v33.26h-2.83zM958.85,523.77h2.83v36.03h-2.83zM961.62,532.08h2.83v30.48h-2.83zM964.40,545.94h2.83v19.40h-2.83zM967.17,545.94h2.83v22.17h-2.83zM969.94,543.17h2.83v22.17h-2.83zM972.71,534.85h2.83v30.48h-2.83zM975.48,512.68h2.83v52.65h-2.83zM978.25,462.80h2.83v83.14h-2.83zM981.02,426.77h2.83v102.54h-2.83zM983.79,424.00h2.83v80.37h-2.83zM986.57,412.92h2.83v36.03h-2.83zM989.34,412.92h2.83v58.20h-2.83zM992.11,415.69h2.83v85.91h-2.83zM994.88,443.40h2.83v74.82h-2.83zM997.65,482.20h2.83v55.43h-2.83zM1000.42,498.83h2.83v52.65h-2.83zM1003.19,512.68h2.83v41.57h-2.83zM1005.96,526.54h2.83v36.03h-2.83zM1008.74,529.31h2.83v33.26h-2.83zM1011.51,532.08h2.83v27.71h-2.83zM1014.28,526.54h2.83v27.71h-2.83zM1017.05,521.00h2.83v33.26h-2.83zM1019.82,496.05h2.83v55.43h-2.83zM1022.59,482.20h2.83v52.65h-2.83zM1022.59,543.17h2.83v5.54h-2.83zM1025.36,476.66h2.83v49.88h-2.83zM1028.13,471.11h2.83v44.34h-2.83zM1030.90,471.11h2.83v30.48h-2.83zM1033.68,473.88h2.83v63.74h-2.83zM1036.45,487.74h2.83v80.37h-2.83zM1039.22,507.14h2.83v66.51h-2.83zM1041.99,537.62h2.83v36.03h-2.83zM1044.76,548.71h2.83v27.71h-2.83zM1047.53,554.25h2.83v22.17h-2.83zM1050.30,559.79h2.83v22.17h-2.83zM1053.08,557.02h2.83v27.71h-2.83zM1055.85,554.25h2.83v30.48h-2.83zM1058.62,551.48h2.83v24.94h-2.83zM1061.39,540.39h2.83v33.26h-2.83zM1064.16,523.77h2.83v47.11h-2.83zM1066.93,501.60h2.83v60.97h-2.83zM1069.70,471.11h2.83v77.59h-2.83zM1072.47,465.57h2.83v55.43h-2.83zM1072.47,529.31h2.83v2.77h-2.83zM1075.25,460.03h2.83v38.80h-2.83zM1078.02,460.03h2.83v27.71h-2.83zM1080.79,460.03h2.83v47.11h-2.83zM1083.56,465.57h2.83v72.05h-2.83zM1086.33,487.74h2.83v63.74h-2.83zM1089.10,518.22h2.83v44.34h-2.83zM1091.87,537.62h2.83v30.48h-2.83zM1094.64,543.17h2.83v27.71h-2.83zM1097.42,548.71h2.83v24.94h-2.83zM1100.19,534.85h2.83v38.80h-2.83zM1102.96,526.54h2.83v36.03h-2.83zM1105.73,501.60h2.83v55.43h-2.83zM1108.50,484.97h2.83v60.97h-2.83zM1111.27,473.88h2.83v52.65h-2.83zM1114.04,471.11h2.83v38.80h-2.83zM1116.81,471.11h2.83v44.34h-2.83zM1119.59,473.88h2.83v80.37h-2.83zM1122.36,482.20h2.83v74.82h-2.83zM1125.13,523.77h2.83v38.80h-2.83zM1127.90,532.08h2.83v33.26h-2.83zM1130.67,540.39h2.83v22.17h-2.83zM1133.44,537.62h2.83v22.17h-2.83zM1136.21,529.31h2.83v33.26h-2.83zM1138.98,529.31h2.83v44.34h-2.83zM1141.76,532.08h2.83v44.34h-2.83zM1144.53,554.25h2.83v24.94h-2.83zM1147.30,557.02h2.83v24.94h-2.83zM1150.07,559.79h2.83v22.17h-2.83zM1152.84,557.02h2.83v19.40h-2.83zM1155.61,557.02h2.83v27.71h-2.83zM1158.38,559.79h2.83v36.03h-2.83zM1161.15,565.34h2.83v33.26h-2.83zM1163.93,573.65h2.83v22.17h-2.83zM1166.70,576.42h2.83v19.40h-2.83zM1169.47,579.19h2.83v19.40h-2.83zM1172.24,579.19h2.83v27.71h-2.83zM1175.01,579.19h2.83v30.48h-2.83zM1177.78,579.19h2.83v33.26h-2.83zM1180.55,584.73h2.83v27.71h-2.83zM1183.32,584.73h2.83v24.94h-2.83zM1186.10,587.50h2.83v22.17h-2.83zM1188.87,593.05h2.83v16.63h-2.83zM1191.64,584.73h2.83v22.17h-2.83zM1194.41,579.19h2.83v24.94h-2.83zM1197.18,568.11h2.83v30.48h-2.83zM1199.95,565.34h2.83v30.48h-2.83zM1202.72,565.34h2.83v30.48h-2.83zM1205.49,568.11h2.83v27.71h-2.83zM1208.27,568.11h2.83v30.48h-2.83zM1211.04,570.88h2.83v30.48h-2.83zM1213.81,581.96h2.83v33.26h-2.83zM1216.58,587.50h2.83v30.48h-2.83zM1219.35,593.05h2.83v27.71h-2.83zM1222.12,598.59h2.83v24.94h-2.83zM1224.89,598.59h2.83v27.71h-2.83zM1227.66,601.36h2.83v27.71h-2.83zM1230.44,604.13h2.83v27.71h-2.83zM1233.21,604.13h2.83v27.71h-2.83zM1235.98,601.36h2.83v27.71h-2.83zM1238.75,601.36h2.83v22.17h-2.83zM1241.52,604.13h2.83v24.94h-2.83zM1244.29,595.82h2.83v33.26h-2.83zM1247.06,593.05h2.83v27.71h-2.83zM1249.83,590.28h2.83v27.71h-2.83zM1252.61,587.50h2.83v30.48h-2.83zM1255.38,581.96h2.83v27.71h-2.83zM1258.15,570.88h2.83v38.80h-2.83zM1260.92,565.34h2.83v41.57h-2.83zM1263.69,557.02h2.83v36.03h-2.83zM1266.46,554.25h2.83v27.71h-2.83zM1266.46,584.73h2.83v5.54h-2.83zM1269.23,554.25h2.83v30.48h-2.83zM1272.00,557.02h2.83v36.03h-2.83zM1272.00,595.82h2.83v8.31h-2.83zM1274.78,570.88h2.83v41.57h-2.83zM1277.55,573.65h2.83v52.65h-2.83zM1280.32,584.73h2.83v47.11h-2.83zM1283.09,604.13h2.83v30.48h-2.83zM1285.86,606.90h2.83v27.71h-2.83zM1288.63,604.13h2.83v27.71h-2.83zM1291.40,604.13h2.83v24.94h-2.83zM1294.17,598.59h2.83v27.71h-2.83zM1296.95,590.28h2.83v27.71h-2.83zM1299.72,573.65h2.83v41.57h-2.83zM1302.49,570.88h2.83v38.80h-2.83zM1305.26,568.11h2.83v30.48h-2.83zM1308.03,568.11h2.83v33.26h-2.83zM1310.80,570.88h2.83v33.26h-2.83zM1313.57,581.96h2.83v33.26h-2.83zM1316.34,584.73h2.83v33.26h-2.83zM1319.12,593.05h2.83v24.94h-2.83zM1321.89,598.59h2.83v24.94h-2.83zM1324.66,601.36h2.83v24.94h-2.83zM1327.43,604.13h2.83v19.40h-2.83zM1330.20,601.36h2.83v24.94h-2.83zM1332.97,601.36h2.83v24.94h-2.83zM1335.74,601.36h2.83v24.94h-2.83zM1338.51,601.36h2.83v24.94h-2.83zM1341.29,606.90h2.83v24.94h-2.83zM1344.06,609.68h2.83v27.71h-2.83zM1346.83,612.45h2.83v27.71h-2.83zM1349.60,615.22h2.83v22.17h-2.83zM1352.37,617.99h2.83v19.40h-2.83zM1355.14,620.76h2.83v19.40h-2.83zM1357.91,620.76h2.83v22.17h-2.83zM1360.68,615.22h2.83v24.94h-2.83zM1363.46,606.90h2.83v22.17h-2.83zM1366.23,606.90h2.83v27.71h-2.83zM1369.00,606.90h2.83v30.48h-2.83zM1371.77,606.90h2.83v27.71h-2.83zM1374.54,606.90h2.83v27.71h-2.83zM1377.31,606.90h2.83v24.94h-2.83zM1380.08,606.90h2.83v24.94h-2.83zM1382.85,606.90h2.83v27.71h-2.83zM1385.62,612.45h2.83v24.94h-2.83zM1388.40,609.68h2.83v27.71h-2.83zM1391.17,606.90h2.83v27.71h-2.83zM1393.94,609.68h2.83v27.71h-2.83zM1396.71,612.45h2.83v24.94h-2.83zM1399.48,615.22h2.83v22.17h-2.83zM1402.25,615.22h2.83v24.94h-2.83zM1405.02,612.45h2.83v24.94h-2.83zM1407.80,612.45h2.83v24.94h-2.83zM1410.57,615.22h2.83v22.17h-2.83zM1413.34,615.22h2.83v24.94h-2.83zM1416.11,615.22h2.83v24.94h-2.83zM1418.88,615.22h2.83v22.17h-2.83zM1421.65,617.99h2.83v16.63h-2.83zM1424.42,617.99h2.83v16.63h-2.83zM1427.19,615.22h2.83v22.17h-2.83zM1429.97,609.68h2.83v27.71h-2.83zM1432.74,606.90h2.83v27.71h-2.83zM1435.51,601.36h2.83v30.48h-2.83zM1438.28,598.59h2.83v27.71h-2.83zM1441.05,598.59h2.83v27.71h-2.83zM1443.82,598.59h2.83v27.71h-2.83zM1446.59,601.36h2.83v27.71h-2.83zM1449.36,601.36h2.83v27.71h-2.83zM1452.14,601.36h2.83v33.26h-2.83zM1454.91,601.36h2.83v36.03h-2.83zM1457.68,612.45h2.83v22.17h-2.83zM1460.45,609.68h2.83v27.71h-2.83zM1463.22,609.68h2.83v27.71h-2.83zM1465.99,609.68h2.83v22.17h-2.83zM1468.76,604.13h2.83v24.94h-2.83zM1471.53,601.36h2.83v22.17h-2.83zM1474.31,601.36h2.83v22.17h-2.83zM1477.08,595.82h2.83v27.71h-2.83zM1479.85,593.05h2.83v30.48h-2.83zM1482.62,593.05h2.83v30.48h-2.83zM1485.39,593.05h2.83v30.48h-2.83zM1488.16,593.05h2.83v22.17h-2.83zM1490.93,590.28h2.83v22.17h-2.83zM1493.70,581.96h2.83v30.48h-2.83zM1496.48,581.96h2.83v22.17h-2.83zM1499.25,576.42h2.83v24.94h-2.83zM1502.02,568.11h2.83v33.26h-2.83zM1504.79,568.11h2.83v33.26h-2.83zM1507.56,568.11h2.83v27.71h-2.83zM1510.33,570.88h2.83v30.48h-2.83zM1513.10,576.42h2.83v33.26h-2.83zM1515.87,576.42h2.83v33.26h-2.83zM1518.65,579.19h2.83v33.26h-2.83zM1521.42,584.73h2.83v27.71h-2.83zM1524.19,584.73h2.83v24.94h-2.83zM1526.96,559.79h2.83v49.88h-2.83zM1529.73,554.25h2.83v49.88h-2.83zM1532.50,545.94h2.83v38.80h-2.83zM1535.27,545.94h2.83v30.48h-2.83zM1538.04,548.71h2.83v22.17h-2.83zM1538.04,573.65h2.83v2.77h-2.83zM1540.82,557.02h2.83v33.26h-2.83zM1543.59,557.02h2.83v41.57h-2.83zM1546.36,568.11h2.83v36.03h-2.83zM1549.13,581.96h2.83v24.94h-2.83zM1551.90,579.19h2.83v33.26h-2.83zM1554.67,581.96h2.83v30.48h-2.83zM1557.44,584.73h2.83v27.71h-2.83zM1560.21,581.96h2.83v30.48h-2.83zM1562.99,581.96h2.83v27.71h-2.83zM1565.76,584.73h2.83v24.94h-2.83zM1568.53,593.05h2.83v19.40h-2.83zM1571.30,593.05h2.83v27.71h-2.83zM1574.07,595.82h2.83v27.71h-2.83zM1576.84,595.82h2.83v30.48h-2.83zM1579.61,595.82h2.83v33.26h-2.83zM1582.38,601.36h2.83v30.48h-2.83zM1585.16,601.36h2.83v30.48h-2.83zM1587.93,601.36h2.83v27.71h-2.83zM1590.70,601.36h2.83v24.94h-2.83zM1593.47,595.82h2.83v30.48h-2.83zM1596.24,595.82h2.83v19.40h-2.83zM1599.01,598.59h2.83v19.40h-2.83zM1601.78,593.05h2.83v24.94h-2.83zM1604.55,590.28h2.83v27.71h-2.83zM1607.33,587.50h2.83v27.71h-2.83zM1610.10,590.28h2.83v27.71h-2.83zM1612.87,590.28h2.83v30.48h-2.83zM1615.64,590.28h2.83v33.26h-2.83zM1618.41,593.05h2.83v30.48h-2.83zM1621.18,595.82h2.83v27.71h-2.83zM1623.95,590.28h2.83v30.48h-2.83zM1626.72,590.28h2.83v30.48h-2.83zM1629.50,593.05h2.83v24.94h-2.83zM1632.27,590.28h2.83v27.71h-2.83zM1635.04,593.05h2.83v30.48h-2.83zM1637.81,601.36h2.83v24.94h-2.83zM1640.58,601.36h2.83v24.94h-2.83zM1643.35,593.05h2.83v30.48h-2.83zM1646.12,587.50h2.83v36.03h-2.83zM1648.89,584.73h2.83v33.26h-2.83zM1651.67,584.73h2.83v30.48h-2.83zM1654.44,579.19h2.83v30.48h-2.83zM1657.21,576.42h2.83v30.48h-2.83zM1659.98,576.42h2.83v33.26h-2.83zM1662.75,584.73h2.83v24.94h-2.83zM1665.52,584.73h2.83v24.94h-2.83zM1668.29,584.73h2.83v33.26h-2.83zM1671.06,593.05h2.83v27.71h-2.83zM1673.84,595.82h2.83v24.94h-2.83zM1676.61,595.82h2.83v24.94h-2.83zM1679.38,598.59h2.83v24.94h-2.83zM1682.15,598.59h2.83v27.71h-2.83zM1684.92,601.36h2.83v33.26h-2.83zM1687.69,606.90h2.83v30.48h-2.83zM1690.46,606.90h2.83v30.48h-2.83zM1693.23,606.90h2.83v27.71h-2.83zM1696.01,606.90h2.83v27.71h-2.83zM1698.78,606.90h2.83v27.71h-2.83zM1701.55,604.13h2.83v27.71h-2.83zM1704.32,604.13h2.83v27.71h-2.83zM1707.09,609.68h2.83v24.94h-2.83zM1709.86,609.68h2.83v22.17h-2.83zM1712.63,609.68h2.83v19.40h-2.83zM1715.40,604.13h2.83v24.94h-2.83zM1718.18,604.13h2.83v24.94h-2.83zM1720.95,595.82h2.83v30.48h-2.83zM1723.72,595.82h2.83v27.71h-2.83zM1726.49,598.59h2.83v24.94h-2.83zM1729.26,601.36h2.83v24.94h-2.83zM1732.03,606.90h2.83v22.17h-2.83zM1734.80,601.36h2.83v27.71h-2.83zM1737.57,601.36h2.83v24.94h-2.83zM1740.35,604.13h2.83v24.94h-2.83zM1743.12,606.90h2.83v22.17h-2.83zM1745.89,606.90h2.83v30.48h-2.83zM1748.66,615.22h2.83v24.94h-2.83zM1751.43,615.22h2.83v24.94h-2.83zM1754.20,617.99h2.83v19.40h-2.83zM1756.97,617.99h2.83v22.17h-2.83zM1759.74,615.22h2.83v27.71h-2.83zM1762.52,612.45h2.83v27.71h-2.83zM1765.29,612.45h2.83v24.94h-2.83zM1768.06,615.22h2.83v24.94h-2.83zM1770.83,615.22h2.83v27.71h-2.83zM1773.60,615.22h2.83v30.48h-2.83zM1776.37,617.99h2.83v24.94h-2.83zM1779.14,623.53h2.83v16.63h-2.83zM1781.91,623.53h2.83v16.63h-2.83zM1784.69,623.53h2.83v19.40h-2.83zM1787.46,617.99h2.83v27.71h-2.83zM1790.23,615.22h2.83v30.48h-2.83zM1793.00,615.22h2.83v24.94h-2.83zM1795.77,615.22h2.83v24.94h-2.83zM1798.54,615.22h2.83v19.40h-2.83zM1801.31,612.45h2.83v19.40h-2.83zM1804.08,606.90h2.83v22.17h-2.83zM1806.86,604.13h2.83v22.17h-2.83zM1809.63,598.59h2.83v24.94h-2.83zM1812.40,595.82h2.83v27.71h-2.83zM1815.17,595.82h2.83v24.94h-2.83zM1817.94,584.73h2.83v27.71h-2.83zM1820.71,581.96h2.83v30.48h-2.83zM1823.48,581.96h2.83v30.48h-2.83zM1826.25,584.73h2.83v27.71h-2.83zM1829.03,587.50h2.83v27.71h-2.83zM1831.80,590.28h2.83v33.26h-2.83zM1834.57,604.13h2.83v22.17h-2.83zM1837.34,606.90h2.83v19.40h-2.83zM1840.11,601.36h2.83v22.17h-2.83zM1842.88,598.59h2.83v22.17h-2.83zM1845.65,601.36h2.83v19.40h-2.83z" fill="#8000ff" stroke="none"/>
<path d="M146.88,931.14h2.83v2.77h-2.83zM149.65,922.83h2.83v16.63h-2.83zM152.42,922.83h2.83v22.17h-2.83zM155.19,922.83h2.83v22.17h-2.83zM157.96,925.60h2.83v19.40h-2.83zM160.73,925.60h2.83v16.63h-2.83zM163.50,928.37h2.83v16.63h-2.83zM166.28,931.14h2.83v19.40h-2.83zM169.05,931.14h2.83v22.17h-2.83zM171.82,931.14h2.83v22.17h-2.83zM174.59,936.68h2.83v19.40h-2.83zM177.36,936.68h2.83v16.63h-2.83zM180.13,936.68h2.83v16.63h-2.83zM182.90,939.45h2.83v16.63h-2.83zM185.67,939.45h2.83v19.40h-2.83zM188.45,939.45h2.83v19.40h-2.83zM191.22,939.45h2.83v19.40h-2.83zM193.99,939.45h2.83v19.40h-2.83zM196.76,939.45h2.83v16.63h-2.83zM199.53,939.45h2.83v16.63h-2.83zM202.30,939.45h2.83v16.63h-2.83zM205.07,936.68h2.83v22.17h-2.83zM207.84,936.68h2.83v22.17h-2.83zM210.62,939.45h2.83v16.63h-2.83zM213.39,942.23h2.83v11.09h-2.83zM216.16,942.23h2.83v16.63h-2.83zM218.93,936.68h2.83v22.17h-2.83zM221.70,936.68h2.83v19.40h-2.83zM224.47,939.45h2.83v16.63h-2.83zM227.24,942.23h2.83v11.09h-2.83zM230.01,939.45h2.83v16.63h-2.83zM232.79,936.68h2.83v19.40h-2.83zM235.56,933.91h2.83v19.40h-2.83zM238.33,933.91h2.83v19.40h-2.83zM241.10,933.91h2.83v22.17h-2.83zM243.87,936.68h2.83v19.40h-2.83zM246.64,936.68h2.83v19.40h-2.83zM249.41,933.91h2.83v19.40h-2.83zM252.18,933.91h2.83v13.86h-2.83zM254.96,933.91h2.83v13.86h-2.83zM257.73,931.14h2.83v19.40h-2.83zM260.50,928.37h2.83v22.17h-2.83zM263.27,928.37h2.83v19.40h-2.83zM266.04,928.37h2.83v22.17h-2.83zM268.81,931.14h2.83v19.40h-2.83zM271.58,931.14h2.83v19.40h-2.83zM274.35,931.14h2.83v19.40h-2.83zM277.12,931.14h2.83v16.63h-2.83zM279.90,928.37h2.83v16.63h-2.83zM282.67,928.37h2.83v19.40h-2.83zM285.44,931.14h2.83v16.63h-2.83zM288.21,931.14h2.83v16.63h-2.83zM290.98,928.37h2.83v22.17h-2.83zM293.75,928.37h2.83v19.40h-2.83zM296.52,928.37h2.83v19.40h-2.83zM299.30,928.37h2.83v19.40h-2.83zM302.07,928.37h2.83v16.63h-2.83zM304.84,925.60h2.83v22.17h-2.83zM307.61,922.83h2.83v22.17h-2.83zM310.38,920.06h2.83v19.40h-2.83zM313.15,920.06h2.83v19.40h-2.83zM315.92,917.28h2.83v19.40h-2.83zM318.69,908.97h2.83v22.17h-2.83zM321.47,903.43h2.83v24.94h-2.83zM324.24,897.89h2.83v24.94h-2.83zM327.01,881.26h2.83v33.26h-2.83zM329.78,875.72h2.83v33.26h-2.83zM332.55,867.40h2.83v38.80h-2.83zM335.32,856.32h2.83v36.03h-2.83zM338.09,853.55h2.83v30.48h-2.83zM340.86,839.69h2.83v30.48h-2.83zM340.86,872.94h2.83v2.77h-2.83zM343.64,823.06h2.83v38.80h-2.83zM346.41,798.12h2.83v55.43h-2.83zM349.18,767.64h2.83v66.51h-2.83zM351.95,731.61h2.83v88.68h-2.83zM354.72,723.30h2.83v74.82h-2.83zM357.49,717.75h2.83v47.11h-2.83zM360.26,717.75h2.83v66.51h-2.83zM363.03,720.53h2.83v133.02h-2.83zM365.81,739.92h2.83v155.19h-2.83zM368.58,800.89h2.83v121.94h-2.83zM371.35,870.17h2.83v60.97h-2.83zM374.12,900.66h2.83v38.80h-2.83zM376.89,914.51h2.83v30.48h-2.83zM379.66,925.60h2.83v24.94h-2.83zM382.43,933.91h2.83v19.40h-2.83zM385.20,933.91h2.83v24.94h-2.83zM387.98,942.23h2.83v19.40h-2.83zM390.75,945.00h2.83v16.63h-2.83zM393.52,947.77h2.83v16.63h-2.83zM396.29,947.77h2.83v16.63h-2.83zM399.06,947.77h2.83v22.17h-2.83zM401.83,956.08h2.83v16.63h-2.83zM404.60,956.08h2.83v16.63h-2.83zM407.37,956.08h2.83v19.40h-2.83zM410.15,958.85h2.83v16.63h-2.83zM412.92,961.62h2.83v13.86h-2.83zM415.69,961.62h2.83v13.86h-2.83zM418.46,961.62h2.83v16.63h-2.83zM421.23,958.85h2.83v22.17h-2.83zM424.00,958.85h2.83v19.40h-2.83zM426.77,958.85h2.83v16.63h-2.83zM429.54,961.62h2.83v16.63h-2.83zM432.32,961.62h2.83v19.40h-2.83zM435.09,964.40h2.83v19.40h-2.83zM437.86,967.17h2.83v16.63h-2.83zM440.63,969.94h2.83v16.63h-2.83zM443.40,972.71h2.83v16.63h-2.83zM446.17,972.71h2.83v19.40h-2.83zM448.94,972.71h2.83v19.40h-2.83zM451.71,975.48h2.83v16.63h-2.83zM454.49,978.25h2.83v13.86h-2.83zM457.26,975.48h2.83v16.63h-2.83zM460.03,975.48h2.83v19.40h-2.83zM462.80,975.48h2.83v19.40h-2.83zM465.57,978.25h2.83v22.17h-2.83zM468.34,981.02h2.83v19.40h-2.83zM471.11,981.02h2.83v19.40h-2.83zM473.88,986.57h2.83v13.86h-2.83zM476.66,986.57h2.83v13.86h-2.83zM479.43,983.79h2.83v13.86h-2.83zM482.20,983.79h2.83v16.63h-2.83zM484.97,983.79h2.83v16.63h-2.83zM487.74,983.79h2.83v13.86h-2.83zM490.51,983.79h2.83v16.63h-2.83zM493.28,983.79h2.83v19.40h-2.83zM496.05,986.57h2.83v19.40h-2.83zM498.83,989.34h2.83v16.63h-2.83zM501.60,989.34h2.83v16.63h-2.83zM504.37,986.57h2.83v19.40h-2.83zM507.14,986.57h2.83v19.40h-2.83zM509.91,986.57h2.83v22.17h-2.83zM512.68,989.34h2.83v19.40h-2.83zM515.45,989.34h2.83v19.40h-2.83zM518.22,992.11h2.83v16.63h-2.83zM521.00,992.11h2.83v13.86h-2.83zM523.77,994.88h2.83v13.86h-2.83zM526.54,994.88h2.83v13.86h-2.83zM529.31,992.11h2.83v19.40h-2.83zM532.08,989.34h2.83v24.94h-2.83zM534.85,992.11h2.83v19.40h-2.83zM537.62,994.88h2.83v16.63h-2.83zM540.39,992.11h2.83v22.17h-2.83zM543.17,994.88h2.83v19.40h-2.83zM545.94,994.88h2.83v19.40h-2.83zM548.71,994.88h2.83v22.17h-2.83zM551.48,994.88h2.83v22.17h-2.83zM554.25,994.88h2.83v22.17h-2.83zM557.02,1000.42h2.83v16.63h-2.83zM559.79,997.65h2.83v19.40h-2.83zM562.56,997.65h2.83v16.63h-2.83zM565.34,1000.42h2.83v16.63h-2.83zM568.11,1000.42h2.83v19.40h-2.83zM570.88,1000.42h2.83v22.17h-2.83zM573.65,1000.42h2.83v19.40h-2.83zM576.42,997.65h2.83v22.17h-2.83zM579.19,994.88h2.83v22.17h-2.83zM581.96,994.88h2.83v22.17h-2.83zM584.73,992.11h2.83v22.17h-2.83zM587.50,994.88h2.83v24.94h-2.83zM590.28,997.65h2.83v22.17h-2.83zM593.05,1003.19h2.83v19.40h-2.83zM595.82,1003.19h2.83v22.17h-2.83zM598.59,1005.96h2.83v22.17h-2.83zM601.36,1005.96h2.83v22.17h-2.83zM604.13,1005.96h2.83v19.40h-2.83zM606.90,1005.96h2.83v19.40h-2.83zM609.68,1008.74h2.83v16.63h-2.83zM612.45,1011.51h2.83v16.63h-2.83zM615.22,1005.96h2.83v22.17h-2.83zM617.99,1005.96h2.83v19.40h-2.83zM620.76,1005.96h2.83v13.86h-2.83zM623.53,1003.19h2.83v13.86h-2.83zM626.30,1003.19h2.83v11.09h-2.83zM629.07,1003.19h2.83v13.86h-2.83zM631.85,1003.19h2.83v19.40h-2.83zM634.62,1003.19h2.83v22.17h-2.83zM637.39,1003.19h2.83v22.17h-2.83zM640.16,1003.19h2.83v19.40h-2.83zM642.93,1003.19h2.83v22.17h-2.83zM645.70,1003.19h2.83v22.17h-2.83zM648.47,1003.19h2.83v22.17h-2.83zM651.24,1000.42h2.83v22.17h-2.83zM654.02,997.65h2.83v22.17h-2.83zM656.79,997.65h2.83v22.17h-2.83zM659.56,994.88h2.83v22.17h-2.83zM662.33,994.88h2.83v13.86h-2.83zM665.10,986.57h2.83v22.17h-2.83zM667.87,975.48h2.83v30.48h-2.83zM670.64,967.17h2.83v30.48h-2.83zM673.41,958.85h2.83v24.94h-2.83zM676.19,956.08h2.83v19.40h-2.83zM678.96,956.08h2.83v24.94h-2.83zM681.73,958.85h2.83v33.26h-2.83zM684.50,964.40h2.83v41.57h-2.83zM687.27,975.48h2.83v38.80h-2.83zM690.04,997.65h2.83v16.63h-2.83zM692.81,997.65h2.83v19.40h-2.83zM695.58,1000.42h2.83v19.40h-2.83zM698.36,1003.19h2.83v16.63h-2.83zM701.13,1000.42h2.83v19.40h-2.83zM703.90,1003.19h2.83v16.63h-2.83zM706.67,1005.96h2.83v13.86h-2.83zM709.44,1005.96h2.83v13.86h-2.83zM712.21,1003.19h2.83v19.40h-2.83zM714.98,1003.19h2.83v19.40h-2.83zM717.75,1003.19h2.83v19.40h-2.83zM720.53,1005.96h2.83v16.63h-2.83zM723.30,1008.74h2.83v16.63h-2.83zM726.07,1003.19h2.83v19.40h-2.83zM728.84,1003.19h2.83v16.63h-2.83zM731.61,1003.19h2.83v16.63h-2.83zM734.38,1000.42h2.83v22.17h-2.83zM737.15,1000.42h2.83v22.17h-2.83zM739.92,997.65h2.83v22.17h-2.83zM742.70,994.88h2.83v22.17h-2.83zM745.47,992.11h2.83v22.17h-2.83zM748.24,992.11h2.83v22.17h-2.83zM751.01,989.34h2.83v22.17h-2.83zM753.78,986.57h2.83v19.40h-2.83zM756.55,986.57h2.83v16.63h-2.83zM759.32,986.57h2.83v13.86h-2.83zM762.09,981.02h2.83v22.17h-2.83zM764.87,981.02h2.83v19.40h-2.83zM767.64,978.25h2.83v22.17h-2.83zM770.41,978.25h2.83v22.17h-2.83zM773.18,975.48h2.83v22.17h-2.83zM775.95,953.31h2.83v38.80h-2.83zM778.72,945.00h2.83v36.03h-2.83zM781.49,922.83h2.83v47.11h-2.83zM784.26,884.03h2.83v77.59h-2.83zM787.04,853.55h2.83v83.14h-2.83zM789.81,839.69h2.83v80.37h-2.83zM792.58,836.92h2.83v44.34h-2.83zM795.35,836.92h2.83v16.63h-2.83zM798.12,834.15h2.83v27.71h-2.83zM800.89,836.92h2.83v74.82h-2.83zM803.66,853.55h2.83v88.68h-2.83zM806.43,878.49h2.83v85.91h-2.83zM809.21,925.60h2.83v49.88h-2.83zM811.98,947.77h2.83v33.26h-2.83zM814.75,961.62h2.83v22.17h-2.83zM817.52,969.94h2.83v13.86h-2.83zM820.29,969.94h2.83v16.63h-2.83zM823.06,969.94h2.83v16.63h-2.83zM825.83,969.94h2.83v16.63h-2.83zM828.60,969.94h2.83v22.17h-2.83zM831.38,972.71h2.83v19.40h-2.83zM834.15,972.71h2.83v19.40h-2.83zM836.92,975.48h2.83v16.63h-2.83zM839.69,978.25h2.83v16.63h-2.83zM842.46,975.48h2.83v22.17h-2.83zM845.23,975.48h2.83v19.40h-2.83zM848.00,975.48h2.83v19.40h-2.83zM850.77,975.48h2.83v19.40h-2.83zM853.55,972.71h2.83v19.40h-2.83zM856.32,975.48h2.83v19.40h-2.83zM859.09,975.48h2.83v19.40h-2.83zM861.86,975.48h2.83v19.40h-2.83zM864.63,975.48h2.83v19.40h-2.83zM867.40,972.71h2.83v19.40h-2.83zM870.17,975.48h2.83v16.63h-2.83zM872.94,972.71h2.83v16.63h-2.83zM875.72,969.94h2.83v16.63h-2.83zM878.49,969.94h2.83v16.63h-2.83zM881.26,969.94h2.83v13.86h-2.83zM884.03,964.40h2.83v19.40h-2.83zM886.80,964.40h2.83v16.63h-2.83zM889.57,964.40h2.83v19.40h-2.83zM892.34,964.40h2.83v16.63h-2.83zM895.11,964.40h2.83v16.63h-2.83zM897.89,953.31h2.83v27.71h-2.83zM900.66,950.54h2.83v24.94h-2.83zM903.43,947.77h2.83v22.17h-2.83zM906.20,933.91h2.83v33.26h-2.83zM908.97,931.14h2.83v24.94h-2.83zM911.74,933.91h2.83v19.40h-2.83zM914.51,933.91h2.83v16.63h-2.83zM917.28,933.91h2.83v16.63h-2.83zM920.06,933.91h2.83v19.40h-2.83zM922.83,933.91h2.83v22.17h-2.83zM925.60,936.68h2.83v19.40h-2.83zM928.37,936.68h2.83v19.40h-2.83zM931.14,936.68h2.83v22.17h-2.83zM933.91,939.45h2.83v19.40h-2.83zM936.68,939.45h2.83v16.63h-2.83zM939.45,936.68h2.83v19.40h-2.83zM942.23,936.68h2.83v19.40h-2.83zM945.00,933.91h2.83v19.40h-2.83zM947.77,928.37h2.83v16.63h-2.83zM950.54,917.28h2.83v27.71h-2.83zM953.31,900.66h2.83v41.57h-2.83zM956.08,895.11h2.83v30.48h-2.83zM958.85,892.34h2.83v24.94h-2.83zM961.62,892.34h2.83v27.71h-2.83zM964.40,895.11h2.83v33.26h-2.83zM967.17,897.89h2.83v30.48h-2.83zM969.94,908.97h2.83v19.40h-2.83zM972.71,906.20h2.83v19.40h-2.83zM975.48,878.49h2.83v47.11h-2.83zM978.25,850.77h2.83v66.51h-2.83zM981.02,803.66h2.83v99.77h-2.83zM983.79,773.18h2.83v94.22h-2.83zM986.57,756.55h2.83v80.37h-2.83zM989.34,753.78h2.83v49.88h-2.83zM992.11,753.78h2.83v44.34h-2.83zM994.88,759.32h2.83v91.45h-2.83zM997.65,773.18h2.83v105.31h-2.83zM1000.42,809.21h2.83v91.45h-2.83zM1003.19,859.09h2.83v58.20h-2.83zM1005.96,889.57h2.83v36.03h-2.83zM1008.74,900.66h2.83v27.71h-2.83zM1011.51,911.74h2.83v22.17h-2.83zM1014.28,908.97h2.83v24.94h-2.83zM1017.05,903.43h2.83v24.94h-2.83zM1019.82,886.80h2.83v36.03h-2.83zM1022.59,875.72h2.83v36.03h-2.83zM1025.36,856.32h2.83v44.34h-2.83zM1028.13,845.23h2.83v47.11h-2.83zM1030.90,836.92h2.83v36.03h-2.83zM1033.68,834.15h2.83v24.94h-2.83zM1036.45,834.15h2.83v47.11h-2.83zM1039.22,839.69h2.83v72.05h-2.83zM1041.99,856.32h2.83v69.28h-2.83zM1044.76,889.57h2.83v44.34h-2.83zM1047.53,914.51h2.83v27.71h-2.83zM1050.30,925.60h2.83v16.63h-2.83zM1053.08,925.60h2.83v16.63h-2.83zM1055.85,922.83h2.83v16.63h-2.83zM1058.62,920.06h2.83v19.40h-2.83zM1061.39,903.43h2.83v33.26h-2.83zM1064.16,889.57h2.83v36.03h-2.83zM1066.93,875.72h2.83v41.57h-2.83zM1069.70,845.23h2.83v58.20h-2.83zM1072.47,817.52h2.83v72.05h-2.83zM1075.25,809.21h2.83v52.65h-2.83zM1078.02,798.12h2.83v44.34h-2.83zM1080.79,798.12h2.83v44.34h-2.83zM1083.56,800.89h2.83v66.51h-2.83zM1086.33,814.75h2.83v80.37h-2.83zM1089.10,845.23h2.83v66.51h-2.83zM1091.87,872.94h2.83v52.65h-2.83zM1094.64,900.66h2.83v24.94h-2.83zM1097.42,906.20h2.83v22.17h-2.83zM1100.19,908.97h2.83v22.17h-2.83zM1102.96,906.20h2.83v24.94h-2.83zM1105.73,895.11h2.83v33.26h-2.83zM1108.50,872.94h2.83v52.65h-2.83zM1111.27,834.15h2.83v83.14h-2.83zM1114.04,817.52h2.83v83.14h-2.83zM1116.81,811.98h2.83v52.65h-2.83zM1119.59,811.98h2.83v33.26h-2.83zM1122.36,811.98h2.83v77.59h-2.83zM1125.13,828.60h2.83v74.82h-2.83zM1127.90,861.86h2.83v55.43h-2.83zM1130.67,889.57h2.83v33.26h-2.83zM1133.44,900.66h2.83v24.94h-2.83zM1136.21,906.20h2.83v19.40h-2.83zM1138.98,906.20h2.83v19.40h-2.83zM1141.76,908.97h2.83v19.40h-2.83zM1144.53,908.97h2.83v19.40h-2.83zM1147.30,911.74h2.83v16.63h-2.83zM1150.07,911.74h2.83v16.63h-2.83zM1152.84,914.51h2.83v16.63h-2.83zM1155.61,911.74h2.83v22.17h-2.83zM1158.38,911.74h2.83v19.40h-2.83zM1161.15,914.51h2.83v19.40h-2.83zM1163.93,914.51h2.83v22.17h-2.83zM1166.70,917.28h2.83v22.17h-2.83zM1169.47,917.28h2.83v22.17h-2.83zM1172.24,922.83h2.83v22.17h-2.83zM1175.01,928.37h2.83v19.40h-2.83zM1177.78,928.37h2.83v19.40h-2.83zM1180.55,925.60h2.83v22.17h-2.83zM1183.32,925.60h2.83v19.40h-2.83zM1186.10,928.37h2.83v16.63h-2.83zM1188.87,931.14h2.83v16.63h-2.83zM1191.64,928.37h2.83v22.17h-2.83zM1194.41,922.83h2.83v24.94h-2.83zM1197.18,922.83h2.83v19.40h-2.83zM1199.95,914.51h2.83v27.71h-2.83zM1202.72,911.74h2.83v27.71h-2.83zM1205.49,903.43h2.83v30.48h-2.83zM1208.27,900.66h2.83v24.94h-2.83zM1211.04,900.66h2.83v22.17h-2.83zM1213.81,900.66h2.83v30.48h-2.83zM1216.58,906.20h2.83v30.48h-2.83zM1219.35,920.06h2.83v24.94h-2.83zM1222.12,928.37h2.83v22.17h-2.83zM1224.89,933.91h2.83v16.63h-2.83zM1227.66,933.91h2.83v19.40h-2.83zM1230.44,933.91h2.83v22.17h-2.83zM1233.21,936.68h2.83v19.40h-2.83zM1235.98,936.68h2.83v19.40h-2.83zM1238.75,939.45h2.83v13.86h-2.83zM1241.52,939.45h2.83v13.86h-2.83zM1244.29,939.45h2.83v16.63h-2.83zM1247.06,939.45h2.83v19.40h-2.83zM1249.83,936.68h2.83v19.40h-2.83zM1252.61,931.14h2.83v24.94h-2.83zM1255.38,928.37h2.83v19.40h-2.83zM1258.15,922.83h2.83v24.94h-2.83zM1260.92,911.74h2.83v27.71h-2.83zM1260.92,942.23h2.83v2.77h-2.83zM1263.69,900.66h2.83v33.26h-2.83zM1266.46,886.80h2.83v36.03h-2.83zM1269.23,886.80h2.83v24.94h-2.83zM1272.00,884.03h2.83v22.17h-2.83zM1274.78,884.03h2.83v33.26h-2.83zM1277.55,886.80h2.83v47.11h-2.83zM1280.32,906.20h2.83v33.26h-2.83zM1283.09,917.28h2.83v30.48h-2.83zM1285.86,931.14h2.83v19.40h-2.83zM1288.63,936.68h2.83v16.63h-2.83zM1291.40,928.37h2.83v24.94h-2.83zM1294.17,925.60h2.83v27.71h-2.83zM1296.95,920.06h2.83v22.17h-2.83zM1299.72,908.97h2.83v30.48h-2.83zM1302.49,903.43h2.83v27.71h-2.83zM1305.26,900.66h2.83v19.40h-2.83zM1308.03,897.89h2.83v22.17h-2.83zM1310.80,897.89h2.83v24.94h-2.83zM1313.57,900.66h2.83v30.48h-2.83zM1316.34,917.28h2.83v30.48h-2.83zM1319.12,925.60h2.83v24.94h-2.83zM1321.89,928.37h2.83v22.17h-2.83zM1324.66,931.14h2.83v19.40h-2.83zM1327.43,931.14h2.83v13.86h-2.83zM1330.20,928.37h2.83v16.63h-2.83zM1332.97,925.60h2.83v19.40h-2.83zM1335.74,925.60h2.83v19.40h-2.83zM1338.51,925.60h2.83v19.40h-2.83zM1341.29,920.06h2.83v22.17h-2.83zM1344.06,920.06h2.83v22.17h-2.83zM1346.83,922.83h2.83v22.17h-2.83zM1349.60,928.37h2.83v22.17h-2.83zM1352.37,933.91h2.83v19.40h-2.83zM1355.14,939.45h2.83v13.86h-2.83zM1357.91,939.45h2.83v16.63h-2.83zM1360.68,936.68h2.83v19.40h-2.83zM1363.46,933.91h2.83v19.40h-2.83zM1366.23,928.37h2.83v19.40h-2.83zM1369.00,928.37h2.83v19.40h-2.83zM1371.77,928.37h2.83v22.17h-2.83zM1374.54,928.37h2.83v19.40h-2.83zM1377.31,928.37h2.83v16.63h-2.83zM1380.08,925.60h2.83v19.40h-2.83zM1382.85,925.60h2.83v22.17h-2.83zM1385.62,928.37h2.83v22.17h-2.83zM1388.40,933.91h2.83v16.63h-2.83zM1391.17,936.68h2.83v16.63h-2.83zM1393.94,933.91h2.83v16.63h-2.83zM1396.71,931.14h2.83v19.40h-2.83zM1399.48,933.91h2.83v19.40h-2.83zM1402.25,933.91h2.83v19.40h-2.83zM1405.02,933.91h2.83v22.17h-2.83zM1407.80,933.91h2.83v22.17h-2.83zM1410.57,933.91h2.83v16.63h-2.83zM1413.34,933.91h2.83v13.86h-2.83zM1416.11,933.91h2.83v16.63h-2.83zM1418.88,931.14h2.83v22.17h-2.83zM1421.65,928.37h2.83v22.17h-2.83zM1424.42,931.14h2.83v13.86h-2.83zM1427.19,931.14h2.83v13.86h-2.83zM1429.97,931.14h2.83v16.63h-2.83zM1432.74,931.14h2.83v19.40h-2.83zM1435.51,925.60h2.83v22.17h-2.83zM1438.28,920.06h2.83v22.17h-2.83zM1441.05,920.06h2.83v19.40h-2.83zM1443.82,914.51h2.83v22.17h-2.83zM1446.59,911.74h2.83v19.40h-2.83zM1449.36,911.74h2.83v19.40h-2.83zM1452.14,911.74h2.83v27.71h-2.83zM1454.91,914.51h2.83v27.71h-2.83zM1457.68,922.83h2.83v19.40h-2.83zM1460.45,925.60h2.83v13.86h-2.83zM1463.22,925.60h2.83v19.40h-2.83zM1465.99,925.60h2.83v22.17h-2.83zM1468.76,931.14h2.83v16.63h-2.83zM1471.53,922.83h2.83v22.17h-2.83zM1474.31,922.83h2.83v16.63h-2.83zM1477.08,920.06h2.83v22.17h-2.83zM1479.85,920.06h2.83v19.40h-2.83zM1482.62,917.28h2.83v22.17h-2.83zM1485.39,914.51h2.83v22.17h-2.83zM1488.16,917.28h2.83v16.63h-2.83zM1490.93,911.74h2.83v22.17h-2.83zM1493.70,908.97h2.83v22.17h-2.83zM1496.48,908.97h2.83v19.40h-2.83zM1499.25,900.66h2.83v24.94h-2.83zM1502.02,892.34h2.83v30.48h-2.83zM1504.79,884.03h2.83v30.48h-2.83zM1507.56,881.26h2.83v27.71h-2.83zM1510.33,881.26h2.83v16.63h-2.83zM1513.10,878.49h2.83v19.40h-2.83zM1515.87,878.49h2.83v24.94h-2.83zM1518.65,878.49h2.83v36.03h-2.83zM1521.42,886.80h2.83v30.48h-2.83zM1524.19,897.89h2.83v22.17h-2.83zM1526.96,897.89h2.83v24.94h-2.83zM1529.73,881.26h2.83v38.80h-2.83zM1532.50,870.17h2.83v44.34h-2.83zM1535.27,856.32h2.83v44.34h-2.83zM1538.04,850.77h2.83v27.71h-2.83zM1540.82,850.77h2.83v22.17h-2.83zM1543.59,853.55h2.83v24.94h-2.83zM1546.36,859.09h2.83v38.80h-2.83zM1549.13,870.17h2.83v33.26h-2.83zM1551.90,881.26h2.83v33.26h-2.83zM1554.67,889.57h2.83v27.71h-2.83zM1557.44,892.34h2.83v27.71h-2.83zM1560.21,900.66h2.83v16.63h-2.83zM1562.99,897.89h2.83v19.40h-2.83zM1565.76,895.11h2.83v19.40h-2.83zM1568.53,895.11h2.83v22.17h-2.83zM1571.30,897.89h2.83v19.40h-2.83zM1574.07,900.66h2.83v24.94h-2.83zM1576.84,903.43h2.83v24.94h-2.83zM1579.61,911.74h2.83v16.63h-2.83zM1582.38,914.51h2.83v16.63h-2.83zM1585.16,917.28h2.83v16.63h-2.83zM1587.93,920.06h2.83v13.86h-2.83zM1590.70,917.28h2.83v13.86h-2.83zM1593.47,914.51h2.83v16.63h-2.83zM1596.24,914.51h2.83v16.63h-2.83zM1599.01,908.97h2.83v22.17h-2.83zM1601.78,906.20h2.83v24.94h-2.83zM1604.55,903.43h2.83v22.17h-2.83zM1607.33,900.66h2.83v22.17h-2.83zM1610.10,900.66h2.83v19.40h-2.83zM1612.87,906.20h2.83v19.40h-2.83zM1615.64,908.97h2.83v22.17h-2.83zM1618.41,908.97h2.83v22.17h-2.83zM1621.18,911.74h2.83v19.40h-2.83zM1623.95,911.74h2.83v19.40h-2.83zM1626.72,911.74h2.83v19.40h-2.83zM1629.50,911.74h2.83v19.40h-2.83zM1632.27,911.74h2.83v19.40h-2.83zM1635.04,908.97h2.83v19.40h-2.83zM1637.81,908.97h2.83v19.40h-2.83zM1640.58,908.97h2.83v19.40h-2.83zM1643.35,911.74h2.83v16.63h-2.83zM1646.12,903.43h2.83v24.94h-2.83zM1648.89,897.89h2.83v24.94h-2.83zM1651.67,889.57h2.83v24.94h-2.83zM1654.44,886.80h2.83v22.17h-2.83zM1657.21,886.80h2.83v19.40h-2.83zM1659.98,884.03h2.83v16.63h-2.83zM1662.75,881.26h2.83v24.94h-2.83zM1665.52,881.26h2.83v30.48h-2.83zM1668.29,892.34h2.83v22.17h-2.83zM1671.06,897.89h2.83v22.17h-2.83zM1673.84,903.43h2.83v24.94h-2.83zM1676.61,906.20h2.83v22.17h-2.83zM1679.38,914.51h2.83v19.40h-2.83zM1682.15,911.74h2.83v22.17h-2.83zM1684.92,911.74h2.83v24.94h-2.83zM1687.69,917.28h2.83v19.40h-2.83zM1690.46,920.06h2.83v16.63h-2.83zM1693.23,917.28h2.83v19.40h-2.83zM1696.01,917.28h2.83v19.40h-2.83zM1698.78,917.28h2.83v19.40h-2.83zM1701.55,917.28h2.83v19.40h-2.83zM1704.32,917.28h2.83v16.63h-2.83zM1707.09,911.74h2.83v22.17h-2.83zM1709.86,911.74h2.83v19.40h-2.83zM1712.63,911.74h2.83v22.17h-2.83zM1715.40,911.74h2.83v22.17h-2.83zM1718.18,911.74h2.83v22.17h-2.83zM1720.95,914.51h2.83v19.40h-2.83zM1723.72,914.51h2.83v13.86h-2.83zM1726.49,911.74h2.83v16.63h-2.83zM1729.26,914.51h2.83v16.63h-2.83zM1732.03,911.74h2.83v22.17h-2.83zM1734.80,914.51h2.83v22.17h-2.83zM1737.57,917.28h2.83v19.40h-2.83zM1740.35,917.28h2.83v19.40h-2.83zM1743.12,917.28h2.83v19.40h-2.83zM1745.89,914.51h2.83v19.40h-2.83zM1748.66,917.28h2.83v16.63h-2.83zM1751.43,917.28h2.83v16.63h-2.83zM1754.20,917.28h2.83v16.63h-2.83zM1756.97,920.06h2.83v13.86h-2.83zM1759.74,917.28h2.83v16.63h-2.83zM1762.52,917.28h2.83v19.40h-2.83zM1765.29,920.06h2.83v16.63h-2.83zM1768.06,917.28h2.83v19.40h-2.83zM1770.83,917.28h2.83v19.40h-2.83zM1773.60,917.28h2.83v22.17h-2.83zM1776.37,920.06h2.83v16.63h-2.83zM1779.14,920.06h2.83v19.40h-2.83zM1781.91,917.28h2.83v22.17h-2.83zM1784.69,914.51h2.83v22.17h-2.83zM1787.46,917.28h2.83v19.40h-2.83zM1790.23,917.28h2.83v16.63h-2.83zM1793.00,917.28h2.83v13.86h-2.83zM1795.77,914.51h2.83v16.63h-2.83zM1798.54,911.74h2.83v19.40h-2.83zM1801.31,914.51h2.83v19.40h-2.83zM1804.08,914.51h2.83v16.63h-2.83zM1806.86,911.74h2.83v16.63h-2.83zM1809.63,911.74h2.83v16.63h-2.83zM1812.40,906.20h2.83v22.17h-2.83zM1815.17,895.11h2.83v30.48h-2.83zM1817.94,892.34h2.83v27.71h-2.83zM1820.71,889.57h2.83v22.17h-2.83zM1823.48,884.03h2.83v19.40h-2.83zM1823.48,906.20h2.83v2.77h-2.83zM1826.25,881.26h2.83v16.63h-2.83zM1829.03,881.26h2.83v22.17h-2.83zM1831.80,884.03h2.83v22.17h-2.83zM1834.57,889.57h2.83v19.40h-2.83zM1837.34,889.57h2.83v22.17h-2.83zM1840.11,892.34h2.83v22.17h-2.83zM1842.88,895.11h2.83v19.40h-2.83zM1845.65,903.43h2.83v5.54h-2.83z" fill="#ff8000" stroke="none"/>
<path d="M149.65,1321.89h2.83v8.31h-2.83zM152.42,1319.12h2.83v11.09h-2.83zM155.19,1319.12h2.83v11.09h-2.83zM157.96,1319.12h2.83v11.09h-2.83zM160.73,1319.12h2.83v11.09h-2.83zM163.50,1319.12h2.83v11.09h-2.83zM166.28,1319.12h2.83v11.09h-2.83zM169.05,1321.89h2.83v11.09h-2.83zM171.82,1321.89h2.83v8.31h-2.83zM174.59,1321.89h2.83v11.09h-2.83zM177.36,1321.89h2.83v8.31h-2.83zM180.13,1321.89h2.83v11.09h-2.83zM182.90,1321.89h2.83v11.09h-2.83zM185.67,1321.89h2.83v8.31h-2.83zM188.45,1319.12h2.83v11.09h-2.83zM191.22,1319.12h2.83v13.86h-2.83zM193.99,1319.12h2.83v13.86h-2.83zM196.76,1319.12h2.83v13.86h-2.83zM199.53,1321.89h2.83v8.31h-2.83zM202.30,1321.89h2.83v8.31h-2.83zM205.07,1321.89h2.83v11.09h-2.83zM207.84,1321.89h2.83v8.31h-2.83zM210.62,1321.89h2.83v8.31h-2.83zM213.39,1321.89h2.83v11.09h-2.83zM216.16,1321.89h2.83v11.09h-2.83zM218.93,1321.89h2.83v8.31h-2.83zM221.70,1321.89h2.83v11.09h-2.83zM224.47,1319.12h2.83v13.86h-2.83zM227.24,1319.12h2.83v13.86h-2.83zM230.01,1319.12h2.83v13.86h-2.83zM232.79,1319.12h2.83v13.86h-2.83zM235.56,1319.12h2.83v11.09h-2.83zM238.33,1321.89h2.83v8.31h-2.83zM241.10,1319.12h2.83v11.09h-2.83zM243.87,1319.12h2.83v11.09h-2.83zM246.64,1319.12h2.83v11.09h-2.83zM249.41,1319.12h2.83v11.09h-2.83zM252.18,1319.12h2.83v11.09h-2.83zM254.96,1319.12h2.83v8.31h-2.83zM257.73,1319.12h2.83v11.09h-2.83zM260.50,1319.12h2.83v8.31h-2.83zM263.27,1316.34h2.83v11.09h-2.83zM266.04,1316.34h2.83v11.09h-2.83zM268.81,1316.34h2.83v8.31h-2.83zM271.58,1316.34h2.83v11.09h-2.83zM274.35,1316.34h2.83v8.31h-2.83zM277.12,1313.57h2.83v11.09h-2.83zM279.90,1313.57h2.83v11.09h-2.83zM282.67,1313.57h2.83v11.09h-2.83zM285.44,1310.80h2.83v11.09h-2.83zM288.21,1310.80h2.83v11.09h-2.83zM290.98,1310.80h2.83v11.09h-2.83zM293.75,1310.80h2.83v11.09h-2.83zM296.52,1310.80h2.83v8.31h-2.83zM299.30,1308.03h2.83v11.09h-2.83zM302.07,1308.03h2.83v11.09h-2.83zM304.84,1305.26h2.83v11.09h-2.83zM307.61,1305.26h2.83v11.09h-2.83zM310.38,1302.49h2.83v11.09h-2.83zM313.15,1302.49h2.83v11.09h-2.83zM315.92,1299.72h2.83v13.86h-2.83zM318.69,1296.95h2.83v13.86h-2.83zM321.47,1294.17h2.83v13.86h-2.83zM324.24,1288.63h2.83v16.63h-2.83zM327.01,1280.32h2.83v22.17h-2.83zM329.78,1269.23h2.83v27.71h-2.83zM332.55,1252.61h2.83v38.80h-2.83zM335.32,1230.44h2.83v55.43h-2.83zM338.09,1199.95h2.83v72.05h-2.83zM340.86,1150.07h2.83v108.08h-2.83zM343.64,1091.87h2.83v144.11h-2.83zM346.41,1044.76h2.83v163.50h-2.83zM349.18,1022.59h2.83v138.56h-2.83zM351.95,1019.82h2.83v83.14h-2.83zM354.72,1022.59h2.83v96.99h-2.83zM357.49,1025.36h2.83v180.13h-2.83zM360.26,1036.45h2.83v224.47h-2.83zM363.03,1100.19h2.83v182.90h-2.83zM365.81,1186.10h2.83v105.31h-2.83zM368.58,1252.61h2.83v41.57h-2.83zM371.35,1277.55h2.83v16.63h-2.83zM374.12,1283.09h2.83v11.09h-2.83zM376.89,1283.09h2.83v11.09h-2.83zM379.66,1283.09h2.83v11.09h-2.83zM382.43,1283.09h2.83v11.09h-2.83zM385.20,1285.86h2.83v8.31h-2.83zM387.98,1283.09h2.83v11.09h-2.83zM390.75,1283.09h2.83v11.09h-2.83zM393.52,1280.32h2.83v13.86h-2.83zM396.29,1280.32h2.83v11.09h-2.83zM399.06,1280.32h2.83v11.09h-2.83zM401.83,1280.32h2.83v11.09h-2.83zM404.60,1280.32h2.83v11.09h-2.83zM407.37,1277.55h2.83v13.86h-2.83zM410.15,1277.55h2.83v11.09h-2.83zM412.92,1274.78h2.83v11.09h-2.83zM415.69,1272.00h2.83v13.86h-2.83zM418.46,1274.78h2.83v8.31h-2.83zM421.23,1272.00h2.83v11.09h-2.83zM424.00,1272.00h2.83v11.09h-2.83zM426.77,1272.00h2.83v13.86h-2.83zM429.54,1274.78h2.83v11.09h-2.83zM432.32,1277.55h2.83v11.09h-2.83zM435.09,1277.55h2.83v11.09h-2.83zM437.86,1274.78h2.83v11.09h-2.83zM440.63,1274.78h2.83v11.09h-2.83zM443.40,1274.78h2.83v8.31h-2.83zM446.17,1274.78h2.83v8.31h-2.83zM448.94,1272.00h2.83v11.09h-2.83zM451.71,1272.00h2.83v11.09h-2.83zM454.49,1272.00h2.83v11.09h-2.83zM457.26,1272.00h2.83v11.09h-2.83zM460.03,1272.00h2.83v8.31h-2.83zM462.80,1269.23h2.83v11.09h-2.83zM465.57,1269.23h2.83v11.09h-2.83zM468.34,1269.23h2.83v8.31h-2.83zM471.11,1269.23h2.83v8.31h-2.83zM473.88,1266.46h2.83v13.86h-2.83zM476.66,1266.46h2.83v13.86h-2.83zM479.43,1266.46h2.83v11.09h-2.83zM482.20,1266.46h2.83v11.09h-2.83zM484.97,1266.46h2.83v11.09h-2.83zM487.74,1266.46h2.83v11.09h-2.83zM490.51,1266.46h2.83v11.09h-2.83zM493.28,1266.46h2.83v11.09h-2.83zM496.05,1266.46h2.83v8.31h-2.83zM498.83,1263.69h2.83v11.09h-2.83zM501.60,1263.69h2.83v11.09h-2.83zM504.37,1263.69h2.83v11.09h-2.83zM507.14,1260.92h2.83v11.09h-2.83zM509.91,1260.92h2.83v11.09h-2.83zM512.68,1260.92h2.83v11.09h-2.83zM515.45,1260.92h2.83v11.09h-2.83zM518.22,1258.15h2.83v11.09h-2.83zM521.00,1258.15h2.83v11.09h-2.83zM523.77,1258.15h2.83v11.09h-2.83zM526.54,1255.38h2.83v13.86h-2.83zM529.31,1258.15h2.83v11.09h-2.83zM532.08,1258.15h2.83v11.09h-2.83zM534.85,1258.15h2.83v11.09h-2.83zM537.62,1258.15h2.83v11.09h-2.83zM540.39,1258.15h2.83v11.09h-2.83zM543.17,1258.15h2.83v11.09h-2.83zM545.94,1258.15h2.83v11.09h-2.83zM548.71,1258.15h2.83v11.09h-2.83zM551.48,1258.15h2.83v11.09h-2.83zM554.25,1258.15h2.83v8.31h-2.83zM557.02,1258.15h2.83v8.31h-2.83zM559.79,1255.38h2.83v11.09h-2.83zM562.56,1255.38h2.83v11.09h-2.83zM565.34,1255.38h2.83v11.09h-2.83zM568.11,1255.38h2.83v11.09h-2.83zM570.88,1255.38h2.83v11.09h-2.83zM573.65,1255.38h2.83v11.09h-2.83zM576.42,1255.38h2.83v11.09h-2.83zM579.19,1252.61h2.83v13.86h-2.83zM581.96,1252.61h2.83v11.09h-2.83zM584.73,1252.61h2.83v11.09h-2.83zM587.50,1252.61h2.83v11.09h-2.83zM590.28,1252.61h2.83v11.09h-2.83zM593.05,1252.61h2.83v11.09h-2.83zM595.82,1252.61h2.83v11.09h-2.83zM598.59,1252.61h2.83v11.09h-2.83zM601.36,1252.61h2.83v11.09h-2.83zM604.13,1249.83h2.83v11.09h-2.83zM606.90,1249.83h2.83v13.86h-2.83zM609.68,1249.83h2.83v11.09h-2.83zM612.45,1249.83h2.83v11.09h-2.83zM615.22,1249.83h2.83v11.09h-2.83zM617.99,1249.83h2.83v8.31h-2.83zM620.76,1249.83h2.83v8.31h-2.83zM623.53,1247.06h2.83v11.09h-2.83zM626.30,1249.83h2.83v11.09h-2.83zM629.07,1249.83h2.83v11.09h-2.83zM631.85,1249.83h2.83v11.09h-2.83zM634.62,1249.83h2.83v11.09h-2.83zM637.39,1249.83h2.83v13.86h-2.83zM640.16,1249.83h2.83v11.09h-2.83zM642.93,1249.83h2.83v11.09h-2.83zM645.70,1247.06h2.83v11.09h-2.83zM648.47,1244.29h2.83v13.86h-2.83zM651.24,1241.52h2.83v13.86h-2.83zM654.02,1238.75h2.83v16.63h-2.83zM656.79,1233.21h2.83v19.40h-2.83zM659.56,1222.12h2.83v24.94h-2.83zM662.33,1211.04h2.83v30.48h-2.83zM665.10,1199.95h2.83v36.03h-2.83zM667.87,1194.41h2.83v33.26h-2.83zM670.64,1191.64h2.83v24.94h-2.83zM673.41,1188.87h2.83v16.63h-2.83zM676.19,1191.64h2.83v30.48h-2.83zM678.96,1191.64h2.83v55.43h-2.83zM681.73,1197.18h2.83v55.43h-2.83zM684.50,1216.58h2.83v38.80h-2.83zM687.27,1241.52h2.83v16.63h-2.83zM690.04,1247.06h2.83v13.86h-2.83zM692.81,1247.06h2.83v11.09h-2.83zM695.58,1247.06h2.83v11.09h-2.83zM698.36,1247.06h2.83v11.09h-2.83zM701.13,1247.06h2.83v11.09h-2.83zM703.90,1247.06h2.83v11.09h-2.83zM706.67,1247.06h2.83v11.09h-2.83zM709.44,1247.06h2.83v11.09h-2.83zM712.21,1247.06h2.83v13.86h-2.83zM714.98,1249.83h2.83v11.09h-2.83zM717.75,1247.06h2.83v11.09h-2.83zM720.53,1247.06h2.83v11.09h-2.83zM723.30,1247.06h2.83v11.09h-2.83zM726.07,1247.06h2.83v11.09h-2.83zM728.84,1247.06h2.83v11.09h-2.83zM731.61,1244.29h2.83v13.86h-2.83zM734.38,1244.29h2.83v11.09h-2.83zM737.15,1244.29h2.83v11.09h-2.83zM739.92,1244.29h2.83v11.09h-2.83zM742.70,1244.29h2.83v11.09h-2.83zM745.47,1244.29h2.83v11.09h-2.83zM748.24,1244.29h2.83v11.09h-2.83zM751.01,1241.52h2.83v11.09h-2.83zM753.78,1241.52h2.83v11.09h-2.83zM756.55,1241.52h2.83v11.09h-2.83zM759.32,1238.75h2.83v13.86h-2.83zM762.09,1238.75h2.83v11.09h-2.83zM764.87,1233.21h2.83v16.63h-2.83zM767.64,1230.44h2.83v16.63h-2.83zM770.41,1219.35h2.83v24.94h-2.83zM773.18,1205.49h2.83v33.26h-2.83zM775.95,1177.78h2.83v55.43h-2.83zM778.72,1144.53h2.83v77.59h-2.83zM781.49,1108.50h2.83v99.77h-2.83zM784.26,1083.56h2.83v102.54h-2.83zM787.04,1078.02h2.83v74.82h-2.83zM789.81,1075.25h2.83v41.57h-2.83zM792.58,1075.25h2.83v44.34h-2.83zM795.35,1078.02h2.83v85.91h-2.83zM798.12,1086.33h2.83v116.39h-2.83zM800.89,1111.27h2.83v113.62h-2.83zM803.66,1152.84h2.83v83.14h-2.83zM806.43,1197.18h2.83v44.34h-2.83zM809.21,1222.12h2.83v22.17h-2.83zM811.98,1233.21h2.83v13.86h-2.83zM814.75,1235.98h2.83v11.09h-2.83zM817.52,1235.98h2.83v11.09h-2.83zM820.29,1238.75h2.83v8.31h-2.83zM823.06,1238.75h2.83v11.09h-2.83zM825.83,1238.75h2.83v11.09h-2.83zM828.60,1241.52h2.83v8.31h-2.83zM831.38,1238.75h2.83v11.09h-2.83zM834.15,1238.75h2.83v11.09h-2.83zM836.92,1238.75h2.83v11.09h-2.83zM839.69,1238.75h2.83v13.86h-2.83zM842.46,1241.52h2.83v11.09h-2.83zM845.23,1238.75h2.83v13.86h-2.83zM848.00,1238.75h2.83v11.09h-2.83zM850.77,1238.75h2.83v11.09h-2.83zM853.55,1241.52h2.83v8.31h-2.83zM856.32,1238.75h2.83v13.86h-2.83zM859.09,1241.52h2.83v8.31h-2.83zM861.86,1241.52h2.83v11.09h-2.83zM864.63,1241.52h2.83v11.09h-2.83zM867.40,1241.52h2.83v11.09h-2.83zM870.17,1241.52h2.83v11.09h-2.83zM872.94,1241.52h2.83v11.09h-2.83zM875.72,1241.52h2.83v11.09h-2.83zM878.49,1241.52h2.83v11.09h-2.83zM881.26,1241.52h2.83v11.09h-2.83zM884.03,1241.52h2.83v11.09h-2.83zM886.80,1241.52h2.83v11.09h-2.83zM889.57,1241.52h2.83v11.09h-2.83zM892.34,1241.52h2.83v11.09h-2.83zM895.11,1241.52h2.83v11.09h-2.83zM897.89,1241.52h2.83v11.09h-2.83zM900.66,1238.75h2.83v11.09h-2.83zM903.43,1238.75h2.83v11.09h-2.83zM906.20,1238.75h2.83v11.09h-2.83zM908.97,1238.75h2.83v11.09h-2.83zM911.74,1238.75h2.83v8.31h-2.83zM914.51,1235.98h2.83v11.09h-2.83zM917.28,1233.21h2.83v13.86h-2.83zM920.06,1233.21h2.83v11.09h-2.83zM922.83,1230.44h2.83v13.86h-2.83zM925.60,1230.44h2.83v11.09h-2.83zM928.37,1230.44h2.83v11.09h-2.83zM931.14,1230.44h2.83v8.31h-2.83zM933.91,1227.66h2.83v11.09h-2.83zM936.68,1230.44h2.83v11.09h-2.83zM939.45,1230.44h2.83v11.09h-2.83zM942.23,1224.89h2.83v13.86h-2.83zM945.00,1216.58h2.83v19.40h-2.83zM947.77,1199.95h2.83v33.26h-2.83zM950.54,1194.41h2.83v33.26h-2.83zM953.31,1194.41h2.83v24.94h-2.83zM956.08,1191.64h2.83v16.63h-2.83zM958.85,1191.64h2.83v24.94h-2.83zM961.62,1197.18h2.83v27.71h-2.83zM964.40,1202.72h2.83v24.94h-2.83zM967.17,1208.27h2.83v19.40h-2.83zM969.94,1191.64h2.83v33.26h-2.83zM972.71,1158.38h2.83v63.74h-2.83zM975.48,1114.04h2.83v99.77h-2.83zM978.25,1072.47h2.83v124.71h-2.83zM981.02,1053.08h2.83v113.62h-2.83zM983.79,1047.53h2.83v77.59h-2.83zM986.57,1047.53h2.83v49.88h-2.83zM989.34,1047.53h2.83v99.77h-2.83zM992.11,1053.08h2.83v135.79h-2.83zM994.88,1086.33h2.83v127.48h-2.83zM997.65,1136.21h2.83v88.68h-2.83zM1000.42,1183.32h2.83v49.88h-2.83zM1003.19,1208.27h2.83v27.71h-2.83zM1005.96,1222.12h2.83v16.63h-2.83zM1008.74,1222.12h2.83v16.63h-2.83zM1011.51,1208.27h2.83v27.71h-2.83zM1014.28,1191.64h2.83v38.80h-2.83zM1017.05,1172.24h2.83v52.65h-2.83zM1019.82,1158.38h2.83v55.43h-2.83zM1022.59,1150.07h2.83v47.11h-2.83zM1025.36,1147.30h2.83v30.48h-2.83zM1028.13,1147.30h2.83v33.26h-2.83zM1030.90,1150.07h2.83v63.74h-2.83zM1033.68,1152.84h2.83v80.37h-2.83zM1036.45,1175.01h2.83v63.74h-2.83zM1039.22,1208.27h2.83v36.03h-2.83zM1041.99,1230.44h2.83v13.86h-2.83zM1044.76,1235.98h2.83v11.09h-2.83zM1047.53,1235.98h2.83v11.09h-2.83zM1050.30,1233.21h2.83v11.09h-2.83zM1053.08,1230.44h2.83v11.09h-2.83zM1055.85,1219.35h2.83v22.17h-2.83zM1058.62,1205.49h2.83v33.26h-2.83zM1061.39,1180.55h2.83v52.65h-2.83zM1064.16,1150.07h2.83v72.05h-2.83zM1066.93,1127.90h2.83v83.14h-2.83zM1069.70,1119.59h2.83v66.51h-2.83zM1072.47,1116.81h2.83v41.57h-2.83zM1075.25,1114.04h2.83v24.94h-2.83zM1078.02,1114.04h2.83v55.43h-2.83zM1080.79,1116.81h2.83v85.91h-2.83zM1083.56,1130.67h2.83v94.22h-2.83zM1086.33,1158.38h2.83v74.82h-2.83zM1089.10,1194.41h2.83v44.34h-2.83zM1091.87,1219.35h2.83v22.17h-2.83zM1094.64,1230.44h2.83v13.86h-2.83zM1097.42,1230.44h2.83v13.86h-2.83zM1100.19,1205.49h2.83v36.03h-2.83zM1102.96,1172.24h2.83v66.51h-2.83zM1105.73,1144.53h2.83v88.68h-2.83zM1108.50,1133.44h2.83v80.37h-2.83zM1111.27,1130.67h2.83v49.88h-2.83zM1114.04,1130.67h2.83v47.11h-2.83zM1116.81,1130.67h2.83v85.91h-2.83zM1119.59,1141.76h2.83v91.45h-2.83zM1122.36,1169.47h2.83v72.05h-2.83zM1125.13,1208.27h2.83v38.80h-2.83zM1127.90,1230.44h2.83v19.40h-2.83zM1130.67,1238.75h2.83v11.09h-2.83zM1133.44,1238.75h2.83v11.09h-2.83zM1136.21,1241.52h2.83v8.31h-2.83zM1138.98,1241.52h2.83v11.09h-2.83zM1141.76,1238.75h2.83v13.86h-2.83zM1144.53,1235.98h2.83v13.86h-2.83zM1147.30,1233.21h2.83v13.86h-2.83zM1150.07,1233.21h2.83v11.09h-2.83zM1152.84,1230.44h2.83v11.09h-2.83zM1155.61,1233.21h2.83v8.31h-2.83zM1158.38,1233.21h2.83v13.86h-2.83zM1161.15,1235.98h2.83v13.86h-2.83zM1163.93,1238.75h2.83v13.86h-2.83zM1166.70,1241.52h2.83v13.86h-2.83zM1169.47,1244.29h2.83v13.86h-2.83zM1172.24,1247.06h2.83v11.09h-2.83zM1175.01,1247.06h2.83v11.09h-2.83zM1177.78,1247.06h2.83v11.09h-2.83zM1180.55,1247.06h2.83v11.09h-2.83zM1183.32,1249.83h2.83v11.09h-2.83zM1186.10,1249.83h2.83v8.31h-2.83zM1188.87,1247.06h2.83v11.09h-2.83zM1191.64,1244.29h2.83v13.86h-2.83zM1194.41,1241.52h2.83v13.86h-2.83zM1197.18,1233.21h2.83v19.40h-2.83zM1199.95,1230.44h2.83v19.40h-2.83zM1202.72,1227.66h2.83v13.86h-2.83zM1205.49,1224.89h2.83v13.86h-2.83zM1208.27,1224.89h2.83v13.86h-2.83zM1211.04,1227.66h2.83v16.63h-2.83zM1213.81,1230.44h2.83v19.40h-2.83zM1216.58,1235.98h2.83v19.40h-2.83zM1219.35,1241.52h2.83v16.63h-2.83zM1222.12,1247.06h2.83v11.09h-2.83zM1224.89,1247.06h2.83v11.09h-2.83zM1227.66,1249.83h2.83v8.31h-2.83zM1230.44,1249.83h2.83v11.09h-2.83zM1233.21,1249.83h2.83v11.09h-2.83zM1235.98,1249.83h2.83v8.31h-2.83zM1238.75,1249.83h2.83v8.31h-2.83zM1241.52,1249.83h2.83v11.09h-2.83zM1244.29,1249.83h2.83v11.09h-2.83zM1247.06,1249.83h2.83v11.09h-2.83zM1249.83,1247.06h2.83v13.86h-2.83zM1252.61,1241.52h2.83v16.63h-2.83zM1255.38,1227.66h2.83v27.71h-2.83zM1258.15,1216.58h2.83v36.03h-2.83zM1260.92,1211.04h2.83v33.26h-2.83zM1263.69,1208.27h2.83v24.94h-2.83zM1266.46,1205.49h2.83v19.40h-2.83zM1269.23,1205.49h2.83v33.26h-2.83zM1272.00,1208.27h2.83v44.34h-2.83zM1274.78,1219.35h2.83v38.80h-2.83zM1277.55,1233.21h2.83v27.71h-2.83zM1280.32,1249.83h2.83v11.09h-2.83zM1283.09,1249.83h2.83v11.09h-2.83zM1285.86,1252.61h2.83v11.09h-2.83zM1288.63,1249.83h2.83v11.09h-2.83zM1291.40,1247.06h2.83v11.09h-2.83zM1294.17,1241.52h2.83v13.86h-2.83zM1296.95,1233.21h2.83v19.40h-2.83zM1299.72,1230.44h2.83v19.40h-2.83zM1302.49,1230.44h2.83v13.86h-2.83zM1305.26,1227.66h2.83v11.09h-2.83zM1308.03,1227.66h2.83v16.63h-2.83zM1310.80,1230.44h2.83v22.17h-2.83zM1313.57,1233.21h2.83v24.94h-2.83zM1316.34,1241.52h2.83v22.17h-2.83zM1319.12,1249.83h2.83v13.86h-2.83zM1321.89,1255.38h2.83v11.09h-2.83zM1324.66,1255.38h2.83v11.09h-2.83zM1327.43,1252.61h2.83v13.86h-2.83zM1330.20,1249.83h2.83v13.86h-2.83zM1332.97,1247.06h2.83v11.09h-2.83zM1335.74,1244.29h2.83v11.09h-2.83zM1338.51,1244.29h2.83v11.09h-2.83zM1341.29,1244.29h2.83v13.86h-2.83zM1344.06,1247.06h2.83v13.86h-2.83zM1346.83,1249.83h2.83v13.86h-2.83zM1349.60,1252.61h2.83v13.86h-2.83zM1352.37,1255.38h2.83v13.86h-2.83zM1355.14,1258.15h2.83v11.09h-2.83zM1357.91,1258.15h2.83v11.09h-2.83zM1360.68,1258.15h2.83v11.09h-2.83zM1363.46,1255.38h2.83v11.09h-2.83zM1366.23,1255.38h2.83v11.09h-2.83zM1369.00,1252.61h2.83v13.86h-2.83zM1371.77,1252.61h2.83v11.09h-2.83zM1374.54,1249.83h2.83v11.09h-2.83zM1377.31,1249.83h2.83v11.09h-2.83zM1380.08,1252.61h2.83v11.09h-2.83zM1382.85,1255.38h2.83v11.09h-2.83zM1385.62,1255.38h2.83v13.86h-2.83zM1388.40,1258.15h2.83v11.09h-2.83zM1391.17,1258.15h2.83v11.09h-2.83zM1393.94,1260.92h2.83v11.09h-2.83zM1396.71,1260.92h2.83v11.09h-2.83zM1399.48,1260.92h2.83v11.09h-2.83zM1402.25,1260.92h2.83v11.09h-2.83zM1405.02,1260.92h2.83v11.09h-2.83zM1407.80,1260.92h2.83v11.09h-2.83zM1410.57,1260.92h2.83v11.09h-2.83zM1413.34,1260.92h2.83v11.09h-2.83zM1416.11,1263.69h2.83v8.31h-2.83zM1418.88,1260.92h2.83v11.09h-2.83zM1421.65,1260.92h2.83v11.09h-2.83zM1424.42,1258.15h2.83v13.86h-2.83zM1427.19,1258.15h2.83v11.09h-2.83zM1429.97,1255.38h2.83v11.09h-2.83zM1432.74,1252.61h2.83v13.86h-2.83zM1435.51,1249.83h2.83v13.86h-2.83zM1438.28,1247.06h2.83v13.86h-2.83zM1441.05,1247.06h2.83v11.09h-2.83zM1443.82,1247.06h2.83v11.09h-2.83zM1446.59,1247.06h2.83v8.31h-2.83zM1449.36,1244.29h2.83v13.86h-2.83zM1452.14,1247.06h2.83v16.63h-2.83zM1454.91,1249.83h2.83v16.63h-2.83zM1457.68,1255.38h2.83v13.86h-2.83zM1460.45,1258.15h2.83v13.86h-2.83zM1463.22,1260.92h2.83v13.86h-2.83zM1465.99,1263.69h2.83v11.09h-2.83zM1468.76,1263.69h2.83v11.09h-2.83zM1471.53,1260.92h2.83v11.09h-2.83zM1474.31,1260.92h2.83v11.09h-2.83zM1477.08,1260.92h2.83v11.09h-2.83zM1479.85,1260.92h2.83v11.09h-2.83zM1482.62,1260.92h2.83v11.09h-2.83zM1485.39,1258.15h2.83v11.09h-2.83zM1488.16,1258.15h2.83v11.09h-2.83zM1490.93,1255.38h2.83v11.09h-2.83zM1493.70,1252.61h2.83v13.86h-2.83zM1496.48,1247.06h2.83v16.63h-2.83zM1499.25,1241.52h2.83v19.40h-2.83zM1502.02,1235.98h2.83v22.17h-2.83zM1504.79,1233.21h2.83v19.40h-2.83zM1507.56,1227.66h2.83v19.40h-2.83zM1510.33,1224.89h2.83v16.63h-2.83zM1513.10,1224.89h2.83v19.40h-2.83zM1515.87,1227.66h2.83v22.17h-2.83zM1518.65,1230.44h2.83v22.17h-2.83zM1521.42,1241.52h2.83v13.86h-2.83zM1524.19,1235.98h2.83v19.40h-2.83zM1526.96,1224.89h2.83v30.48h-2.83zM1529.73,1216.58h2.83v33.26h-2.83zM1532.50,1213.81h2.83v24.94h-2.83zM1535.27,1211.04h2.83v19.40h-2.83zM1538.04,1211.04h2.83v19.40h-2.83zM1540.82,1211.04h2.83v27.71h-2.83zM1543.59,1216.58h2.83v33.26h-2.83zM1546.36,1224.89h2.83v30.48h-2.83zM1549.13,1238.75h2.83v22.17h-2.83zM1551.90,1247.06h2.83v16.63h-2.83zM1554.67,1252.61h2.83v11.09h-2.83zM1557.44,1255.38h2.83v11.09h-2.83zM1560.21,1252.61h2.83v11.09h-2.83zM1562.99,1252.61h2.83v11.09h-2.83zM1565.76,1252.61h2.83v11.09h-2.83zM1568.53,1249.83h2.83v11.09h-2.83zM1571.30,1249.83h2.83v13.86h-2.83zM1574.07,1252.61h2.83v13.86h-2.83zM1576.84,1255.38h2.83v13.86h-2.83zM1579.61,1258.15h2.83v13.86h-2.83zM1582.38,1260.92h2.83v13.86h-2.83zM1585.16,1263.69h2.83v11.09h-2.83zM1587.93,1263.69h2.83v11.09h-2.83zM1590.70,1263.69h2.83v11.09h-2.83zM1593.47,1263.69h2.83v11.09h-2.83zM1596.24,1260.92h2.83v11.09h-2.83zM1599.01,1260.92h2.83v11.09h-2.83zM1601.78,1258.15h2.83v11.09h-2.83zM1604.55,1255.38h2.83v13.86h-2.83zM1607.33,1252.61h2.83v13.86h-2.83zM1610.10,1249.83h2.83v11.09h-2.83zM1612.87,1252.61h2.83v11.09h-2.83zM1615.64,1252.61h2.83v16.63h-2.83zM1618.41,1255.38h2.83v16.63h-2.83zM1621.18,1260.92h2.83v11.09h-2.83zM1623.95,1263.69h2.83v13.86h-2.83zM1626.72,1266.46h2.83v11.09h-2.83zM1629.50,1266.46h2.83v11.09h-2.83zM1632.27,1266.46h2.83v13.86h-2.83zM1635.04,1266.46h2.83v11.09h-2.83zM1637.81,1266.46h2.83v11.09h-2.83zM1640.58,1263.69h2.83v11.09h-2.83zM1643.35,1255.38h2.83v19.40h-2.83zM1646.12,1249.83h2.83v22.17h-2.83zM1648.89,1247.06h2.83v16.63h-2.83zM1651.67,1244.29h2.83v13.86h-2.83zM1654.44,1244.29h2.83v11.09h-2.83zM1657.21,1241.52h2.83v13.86h-2.83zM1659.98,1241.52h2.83v22.17h-2.83zM1662.75,1244.29h2.83v24.94h-2.83zM1665.52,1249.83h2.83v22.17h-2.83zM1668.29,1258.15h2.83v19.40h-2.83zM1671.06,1263.69h2.83v13.86h-2.83zM1673.84,1266.46h2.83v11.09h-2.83zM1676.61,1266.46h2.83v11.09h-2.83zM1679.38,1269.23h2.83v11.09h-2.83zM1682.15,1269.23h2.83v11.09h-2.83zM1684.92,1269.23h2.83v11.09h-2.83zM1687.69,1269.23h2.83v8.31h-2.83zM1690.46,1269.23h2.83v8.31h-2.83zM1693.23,1269.23h2.83v11.09h-2.83zM1696.01,1269.23h2.83v11.09h-2.83zM1698.78,1266.46h2.83v13.86h-2.83zM1701.55,1266.46h2.83v11.09h-2.83zM1704.32,1266.46h2.83v11.09h-2.83zM1707.09,1266.46h2.83v8.31h-2.83zM1709.86,1266.46h2.83v11.09h-2.83zM1712.63,1266.46h2.83v11.09h-2.83zM1715.40,1266.46h2.83v11.09h-2.83zM1718.18,1266.46h2.83v13.86h-2.83zM1720.95,1269.23h2.83v11.09h-2.83zM1723.72,1269.23h2.83v11.09h-2.83zM1726.49,1272.00h2.83v8.31h-2.83zM1729.26,1272.00h2.83v8.31h-2.83zM1732.03,1272.00h2.83v8.31h-2.83zM1734.80,1272.00h2.83v11.09h-2.83zM1737.57,1272.00h2.83v11.09h-2.83zM1740.35,1272.00h2.83v11.09h-2.83zM1743.12,1274.78h2.83v8.31h-2.83zM1745.89,1274.78h2.83v8.31h-2.83zM1748.66,1274.78h2.83v8.31h-2.83zM1751.43,1272.00h2.83v11.09h-2.83zM1754.20,1274.78h2.83v8.31h-2.83zM1756.97,1272.00h2.83v13.86h-2.83zM1759.74,1272.00h2.83v11.09h-2.83zM1762.52,1272.00h2.83v11.09h-2.83zM1765.29,1272.00h2.83v11.09h-2.83zM1768.06,1272.00h2.83v11.09h-2.83zM1770.83,1272.00h2.83v11.09h-2.83zM1773.60,1272.00h2.83v11.09h-2.83zM1776.37,1272.00h2.83v11.09h-2.83zM1779.14,1272.00h2.83v11.09h-2.83zM1781.91,1272.00h2.83v11.09h-2.83zM1784.69,1272.00h2.83v11.09h-2.83zM1787.46,1272.00h2.83v11.09h-2.83zM1790.23,1272.00h2.83v11.09h-2.83zM1793.00,1272.00h2.83v11.09h-2.83zM1795.77,1272.00h2.83v11.09h-2.83zM1798.54,1272.00h2.83v11.09h-2.83zM1801.31,1272.00h2.83v11.09h-2.83zM1804.08,1269.23h2.83v13.86h-2.83zM1806.86,1269.23h2.83v11.09h-2.83zM1809.63,1263.69h2.83v16.63h-2.83zM1812.40,1258.15h2.83v19.40h-2.83zM1815.17,1258.15h2.83v13.86h-2.83zM1817.94,1255.38h2.83v11.09h-2.83zM1820.71,1252.61h2.83v11.09h-2.83zM1823.48,1249.83h2.83v11.09h-2.83zM1826.25,1249.83h2.83v11.09h-2.83zM1829.03,1249.83h2.83v16.63h-2.83zM1831.80,1252.61h2.83v16.63h-2.83zM1834.57,1255.38h2.83v19.40h-2.83zM1837.34,1263.69h2.83v11.09h-2.83zM1840.11,1263.69h2.83v13.86h-2.83zM1842.88,1266.46h2.83v11.09h-2.83zM1845.65,1269.23h2.83v8.31h-2.83zM1848.42,1272.00h2.83v2.77h-2.83z" fill="#000000" stroke="none"/>
</g></g>
<!-- frame -->
<rect x="155.3" y="32" width="2.4" height="1401.8" fill="#8e8e8e"/>
<rect x="154" y="33" width="1690" height="2.6" fill="#b6b6b6"/>
<rect x="152.2" y="30.3" width="3.2" height="1403.5" fill="#000"/>
<rect x="152.2" y="30.3" width="1694.1" height="2.8" fill="#000"/>
<rect x="1841" y="30.3" width="5.3" height="1403.6" fill="#000"/>
<rect x="152.2" y="1403.9" width="1694.1" height="5.1" fill="#000"/>
<line x1="274.8" y1="1406.0" x2="274.8" y2="1422.6" stroke="#000" stroke-width="5.3"/>
<line x1="395.5" y1="1406.0" x2="395.5" y2="1433.7" stroke="#000" stroke-width="5.3"/>
<line x1="516.1" y1="1406.0" x2="516.1" y2="1422.6" stroke="#000" stroke-width="5.3"/>
<line x1="636.8" y1="1406.0" x2="636.8" y2="1433.7" stroke="#000" stroke-width="5.3"/>
<line x1="757.5" y1="1406.0" x2="757.5" y2="1422.6" stroke="#000" stroke-width="5.3"/>
<line x1="878.2" y1="1406.0" x2="878.2" y2="1433.7" stroke="#000" stroke-width="5.3"/>
<line x1="998.8" y1="1406.0" x2="998.8" y2="1422.6" stroke="#000" stroke-width="5.3"/>
<line x1="1119.5" y1="1406.0" x2="1119.5" y2="1433.7" stroke="#000" stroke-width="5.3"/>
<line x1="1240.2" y1="1406.0" x2="1240.2" y2="1422.6" stroke="#000" stroke-width="5.3"/>
<line x1="1360.8" y1="1406.0" x2="1360.8" y2="1433.7" stroke="#000" stroke-width="5.3"/>
<line x1="1481.5" y1="1406.0" x2="1481.5" y2="1422.6" stroke="#000" stroke-width="5.3"/>
<line x1="1602.2" y1="1406.0" x2="1602.2" y2="1433.7" stroke="#000" stroke-width="5.3"/>
<line x1="1722.9" y1="1406.0" x2="1722.9" y2="1422.6" stroke="#000" stroke-width="5.3"/>
<text x="154.5" y="1505.5" text-anchor="middle" class="sans" font-size="68">5</text>
<text x="395.9" y="1505.5" text-anchor="middle" class="sans" font-size="68">10</text>
<text x="637.2" y="1505.5" text-anchor="middle" class="sans" font-size="68">15</text>
<text x="878.6" y="1505.5" text-anchor="middle" class="sans" font-size="68">20</text>
<text x="1119.9" y="1505.5" text-anchor="middle" class="sans" font-size="68">25</text>
<text x="1361.2" y="1505.5" text-anchor="middle" class="sans" font-size="68">30</text>
<text x="1602.6" y="1505.5" text-anchor="middle" class="sans" font-size="68">35</text>
<text x="1844.0" y="1505.5" text-anchor="middle" class="sans" font-size="68">40</text>
<!-- arrow -->
<rect x="1895.4" y="84" width="3" height="1323" fill="#8e8e8e"/>
<rect x="1898.1" y="60" width="7.8" height="1350.5" fill="#000"/>
<path d="M1898.3,30.3H1905.8L1931,79.4V87.2H1873.8V79.4Z" fill="#000"/>
<!-- labels -->
<text x="1571.2" y="131" class="sans" font-size="68" letter-spacing="0.8">1-Mech</text>
<text x="1568.8" y="495" class="sans" font-size="68" letter-spacing="0.3">1-Sol-30</text>
<text x="1568.8" y="792.5" class="sans" font-size="68" letter-spacing="0.3">1-Sol-10</text>
<text x="1566.2" y="1185.5" class="sans" font-size="68" letter-spacing="1">1-Sol</text>
<text y="209" class="sans" font-size="75"><tspan x="1922.5" class="serif" font-size="70">β</tspan><tspan x="1961">-phase</tspan></text>
<text y="1297" class="sans" font-size="75" letter-spacing="0.3"><tspan x="1915.6" class="serif" font-size="70" letter-spacing="0" textLength="41.8" lengthAdjust="spacingAndGlyphs">α</tspan><tspan x="1957">-phase</tspan></text>
<text transform="translate(76.5,1079) rotate(-90)" class="sans" font-size="67.5" letter-spacing="0.73">Normalised Intensity</text>
<text x="998.6" y="1629.5" text-anchor="middle" class="serif" font-size="69" letter-spacing="1.2">2θ (°)</text>
</svg>
</body>
</html>
